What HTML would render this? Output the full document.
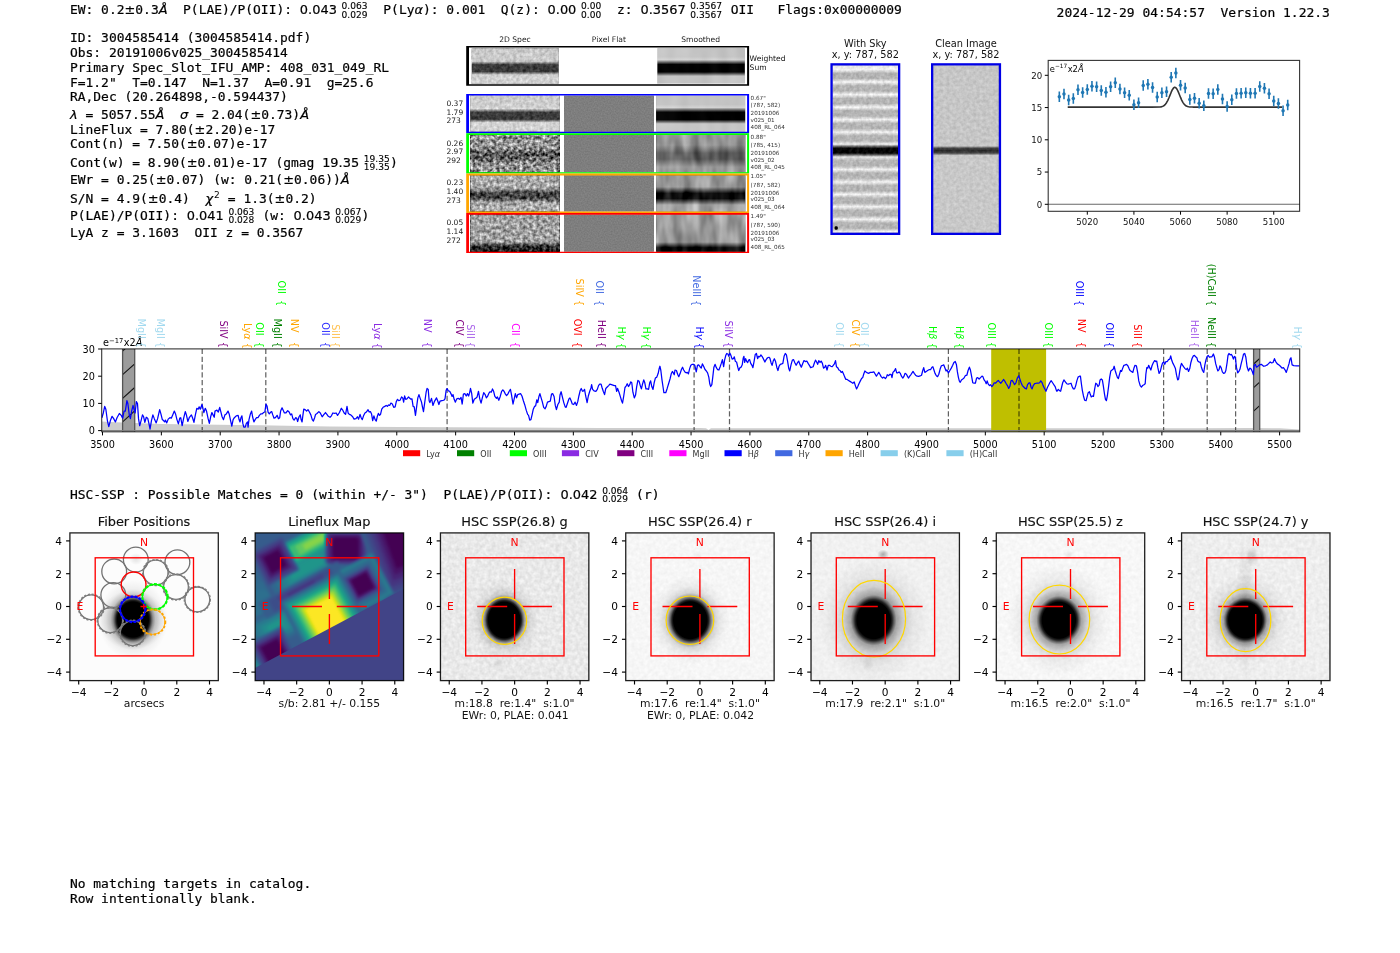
<!DOCTYPE html>
<html lang="en"><head><meta charset="utf-8"><title>ELiXer detection report 3004585414</title>
<style>
html,body{margin:0;padding:0;background:#fff;}
body{width:1400px;height:953px;overflow:hidden;}
svg{display:block;}
text{white-space:pre;}
.m{font-family:"DejaVu Sans Mono","Liberation Mono",monospace;stroke:#000;stroke-width:.2px;}
.s{font-family:"DejaVu Sans","Liberation Sans",sans-serif;}
.i{font-style:italic;}
</style></head><body>
<svg width="1400" height="953" viewBox="0 0 1400 953">
<rect width="1400" height="953" fill="#fff"/>
<text x="70" y="14.0" font-size="12.93" fill="#000" class="m" >EW: 0.2</text>
<text x="124.49" y="14.0" font-size="12.93" fill="#000" class="s" stroke="#000" stroke-width="0.2">±</text>
<text x="135.33" y="14.0" font-size="12.93" fill="#000" class="m" >0.3</text>
<text x="158.68" y="14.0" font-size="12.93" fill="#000" class="s i" stroke="#000" stroke-width="0.2">Å</text>
<text x="167.52" y="14.0" font-size="12.93" fill="#000" class="m" >  P(LAE)/P(OII): </text>
<text x="299.86" y="14.0" font-size="12.93" fill="#000" class="s" stroke="#000" stroke-width="0.2">0.043</text>
<text x="341.58" y="8.9" font-size="9.05" fill="#000" class="s" stroke="#000" stroke-width="0.12">0.063</text>
<text x="341.58" y="17.6" font-size="9.05" fill="#000" class="s" stroke="#000" stroke-width="0.12">0.029</text>
<text x="367.78" y="14.0" font-size="12.93" fill="#000" class="m" >  P(Ly</text>
<text x="414.49" y="14.0" font-size="12.93" fill="#000" class="s i" stroke="#000" stroke-width="0.2">α</text>
<text x="423.01" y="14.0" font-size="12.93" fill="#000" class="m" >): 0.001  Q(z): </text>
<text x="547.57" y="14.0" font-size="12.93" fill="#000" class="s" stroke="#000" stroke-width="0.2">0.00</text>
<text x="581.06" y="8.9" font-size="9.05" fill="#000" class="s" stroke="#000" stroke-width="0.12">0.00</text>
<text x="581.06" y="17.6" font-size="9.05" fill="#000" class="s" stroke="#000" stroke-width="0.12">0.00</text>
<text x="601.51" y="14.0" font-size="12.93" fill="#000" class="m" >  z: </text>
<text x="640.43" y="14.0" font-size="12.93" fill="#000" class="s" stroke="#000" stroke-width="0.2">0.3567</text>
<text x="690.37" y="8.9" font-size="9.05" fill="#000" class="s" stroke="#000" stroke-width="0.12">0.3567</text>
<text x="690.37" y="17.6" font-size="9.05" fill="#000" class="s" stroke="#000" stroke-width="0.12">0.3567</text>
<text x="722.94" y="14.0" font-size="12.93" fill="#000" class="m" > OII   Flags:0x00000009</text>
<text x="1056.6" y="16.6" font-size="12.98" fill="#000" class="m" >2024-12-29 04:54:57  Version 1.22.3</text>
<text x="70" y="42.4" font-size="12.93" fill="#000" class="m" >ID: 3004585414 (3004585414.pdf)</text>
<text x="70" y="57.1" font-size="12.93" fill="#000" class="m" >Obs: 20191006v025_3004585414</text>
<text x="70" y="71.9" font-size="12.93" fill="#000" class="m" >Primary Spec_Slot_IFU_AMP: 408_031_049_RL</text>
<text x="70" y="86.6" font-size="12.93" fill="#000" class="m" >F=1.2"  T=0.147  N=1.37  A=0.91  g=25.6</text>
<text x="70" y="101.4" font-size="12.93" fill="#000" class="m" >RA,Dec (20.264898,-0.594437)</text>
<text x="70" y="236.6" font-size="12.93" fill="#000" class="m" >LyA z = 3.1603  OII z = 0.3567</text>
<text x="70" y="118.9" font-size="12.93" fill="#000" class="s i" stroke="#000" stroke-width="0.2">λ</text>
<text x="77.65" y="118.9" font-size="12.93" fill="#000" class="m" > = 5057.55</text>
<text x="155.5" y="118.9" font-size="12.93" fill="#000" class="s i" stroke="#000" stroke-width="0.2">Å</text>
<text x="164.34" y="118.9" font-size="12.93" fill="#000" class="m" >  </text>
<text x="179.91" y="118.9" font-size="12.93" fill="#000" class="s i" stroke="#000" stroke-width="0.2">σ</text>
<text x="188.11" y="118.9" font-size="12.93" fill="#000" class="m" > = 2.04(</text>
<text x="250.38" y="118.9" font-size="12.93" fill="#000" class="s" stroke="#000" stroke-width="0.2">±</text>
<text x="261.22" y="118.9" font-size="12.93" fill="#000" class="m" >0.73)</text>
<text x="300.14" y="118.9" font-size="12.93" fill="#000" class="s i" stroke="#000" stroke-width="0.2">Å</text>
<text x="70" y="133.8" font-size="12.93" fill="#000" class="m" >LineFlux = 7.80(</text>
<text x="194.55" y="133.8" font-size="12.93" fill="#000" class="s" stroke="#000" stroke-width="0.2">±</text>
<text x="205.39" y="133.8" font-size="12.93" fill="#000" class="m" >2.20)e-17</text>
<text x="70" y="148.3" font-size="12.93" fill="#000" class="m" >Cont(n) = 7.50(</text>
<text x="186.77" y="148.3" font-size="12.93" fill="#000" class="s" stroke="#000" stroke-width="0.2">±</text>
<text x="197.6" y="148.3" font-size="12.93" fill="#000" class="m" >0.07)e-17</text>
<text x="70" y="166.8" font-size="12.93" fill="#000" class="m" >Cont(w) = 8.90(</text>
<text x="186.77" y="166.8" font-size="12.93" fill="#000" class="s" stroke="#000" stroke-width="0.2">±</text>
<text x="197.6" y="166.8" font-size="12.93" fill="#000" class="m" >0.01)e-17 (gmag </text>
<text x="322.15" y="166.8" font-size="12.93" fill="#000" class="s" stroke="#000" stroke-width="0.2">19.35</text>
<text x="363.87" y="161.7" font-size="9.05" fill="#000" class="s" stroke="#000" stroke-width="0.12">19.35</text>
<text x="363.87" y="170.4" font-size="9.05" fill="#000" class="s" stroke="#000" stroke-width="0.12">19.35</text>
<text x="390.08" y="166.8" font-size="12.93" fill="#000" class="m" >)</text>
<text x="70" y="184.3" font-size="12.93" fill="#000" class="m" >EWr = 0.25(</text>
<text x="155.63" y="184.3" font-size="12.93" fill="#000" class="s" stroke="#000" stroke-width="0.2">±</text>
<text x="166.46" y="184.3" font-size="12.93" fill="#000" class="m" >0.07) (w: 0.21(</text>
<text x="283.23" y="184.3" font-size="12.93" fill="#000" class="s" stroke="#000" stroke-width="0.2">±</text>
<text x="294.06" y="184.3" font-size="12.93" fill="#000" class="m" >0.06))</text>
<text x="340.77" y="184.3" font-size="12.93" fill="#000" class="s i" stroke="#000" stroke-width="0.2">Å</text>
<text x="70" y="202.5" font-size="12.93" fill="#000" class="m" >S/N = 4.9(</text>
<text x="147.84" y="202.5" font-size="12.93" fill="#000" class="s" stroke="#000" stroke-width="0.2">±</text>
<text x="158.68" y="202.5" font-size="12.93" fill="#000" class="m" >0.4)  </text>
<text x="205.39" y="202.5" font-size="12.93" fill="#000" class="s i" stroke="#000" stroke-width="0.2">χ</text>
<text x="214.04" y="197.8" font-size="9.05" fill="#000" class="s" >2</text>
<text x="220.1" y="202.5" font-size="12.93" fill="#000" class="m" > = 1.3(</text>
<text x="274.59" y="202.5" font-size="12.93" fill="#000" class="s" stroke="#000" stroke-width="0.2">±</text>
<text x="285.42" y="202.5" font-size="12.93" fill="#000" class="m" >0.2)</text>
<text x="70" y="219.6" font-size="12.93" fill="#000" class="m" >P(LAE)/P(OII): </text>
<text x="186.77" y="219.6" font-size="12.93" fill="#000" class="s" stroke="#000" stroke-width="0.2">0.041</text>
<text x="228.48" y="214.5" font-size="9.05" fill="#000" class="s" stroke="#000" stroke-width="0.12">0.063</text>
<text x="228.48" y="223.2" font-size="9.05" fill="#000" class="s" stroke="#000" stroke-width="0.12">0.028</text>
<text x="254.69" y="219.6" font-size="12.93" fill="#000" class="m" > (w: </text>
<text x="293.61" y="219.6" font-size="12.93" fill="#000" class="s" stroke="#000" stroke-width="0.2">0.043</text>
<text x="335.33" y="214.5" font-size="9.05" fill="#000" class="s" stroke="#000" stroke-width="0.12">0.067</text>
<text x="335.33" y="223.2" font-size="9.05" fill="#000" class="s" stroke="#000" stroke-width="0.12">0.029</text>
<text x="361.54" y="219.6" font-size="12.93" fill="#000" class="m" >)</text>
<text x="70" y="498.8" font-size="12.93" fill="#000" class="m" >HSC-SSP : Possible Matches = 0 (within +/- 3")  P(LAE)/P(OII): </text>
<text x="560.42" y="498.8" font-size="12.93" fill="#000" class="s" stroke="#000" stroke-width="0.2">0.042</text>
<text x="602.14" y="493.7" font-size="9.05" fill="#000" class="s" stroke="#000" stroke-width="0.12">0.064</text>
<text x="602.14" y="502.4" font-size="9.05" fill="#000" class="s" stroke="#000" stroke-width="0.12">0.029</text>
<text x="628.35" y="498.8" font-size="12.93" fill="#000" class="m" > (r)</text>
<text x="70" y="888.4" font-size="12.93" fill="#000" class="m" >No matching targets in catalog.</text>
<text x="70" y="903.2" font-size="12.93" fill="#000" class="m" >Row intentionally blank.</text>
<filter id="nz1" x="0" y="0" width="100%" height="100%" color-interpolation-filters="sRGB"><feTurbulence type="fractalNoise" baseFrequency="0.3" numOctaves="2" seed="4" result="t"/><feColorMatrix in="t" type="matrix" values="1 0 0 0 0  1 0 0 0 0  1 0 0 0 0  0 0 0 0 1" result="n1"/><feComposite in="SourceGraphic" in2="n1" operator="arithmetic" k1="0" k2="1" k3="0.32" k4="-0.160"/></filter>
<filter id="nz2" x="0" y="0" width="100%" height="100%" color-interpolation-filters="sRGB"><feTurbulence type="fractalNoise" baseFrequency="0.3" numOctaves="2" seed="11" result="t"/><feColorMatrix in="t" type="matrix" values="1 0 0 0 0  1 0 0 0 0  1 0 0 0 0  0 0 0 0 1" result="n1"/><feComposite in="SourceGraphic" in2="n1" operator="arithmetic" k1="0" k2="1" k3="1.25" k4="-0.625"/></filter>
<filter id="nz3" x="0" y="0" width="100%" height="100%" color-interpolation-filters="sRGB"><feTurbulence type="fractalNoise" baseFrequency="0.3" numOctaves="2" seed="17" result="t"/><feColorMatrix in="t" type="matrix" values="1 0 0 0 0  1 0 0 0 0  1 0 0 0 0  0 0 0 0 1" result="n1"/><feComposite in="SourceGraphic" in2="n1" operator="arithmetic" k1="0" k2="1" k3="0.85" k4="-0.425"/></filter>
<filter id="nz4" x="0" y="0" width="100%" height="100%" color-interpolation-filters="sRGB"><feTurbulence type="fractalNoise" baseFrequency="0.3" numOctaves="2" seed="23" result="t"/><feColorMatrix in="t" type="matrix" values="1 0 0 0 0  1 0 0 0 0  1 0 0 0 0  0 0 0 0 1" result="n1"/><feComposite in="SourceGraphic" in2="n1" operator="arithmetic" k1="0" k2="1" k3="0.85" k4="-0.425"/></filter>
<filter id="nz5" x="0" y="0" width="100%" height="100%" color-interpolation-filters="sRGB"><feTurbulence type="fractalNoise" baseFrequency="0.7" numOctaves="1" seed="7" result="t"/><feColorMatrix in="t" type="matrix" values="1 0 0 0 0  1 0 0 0 0  1 0 0 0 0  0 0 0 0 1" result="n1"/><feComposite in="SourceGraphic" in2="n1" operator="arithmetic" k1="0" k2="1" k3="0.12" k4="-0.060"/></filter>
<filter id="nz6" x="0" y="0" width="100%" height="100%" color-interpolation-filters="sRGB"><feTurbulence type="fractalNoise" baseFrequency="0.11 0.035" numOctaves="2" seed="21" result="t"/><feColorMatrix in="t" type="matrix" values="1 0 0 0 0  1 0 0 0 0  1 0 0 0 0  0 0 0 0 1" result="n1"/><feComposite in="SourceGraphic" in2="n1" operator="arithmetic" k1="0" k2="1" k3="0.45" k4="-0.225"/></filter>
<filter id="nz7" x="0" y="0" width="100%" height="100%" color-interpolation-filters="sRGB"><feTurbulence type="fractalNoise" baseFrequency="0.10 0.03" numOctaves="1" seed="5" result="t"/><feColorMatrix in="t" type="matrix" values="1 0 0 0 0  1 0 0 0 0  1 0 0 0 0  0 0 0 0 1" result="n1"/><feComposite in="SourceGraphic" in2="n1" operator="arithmetic" k1="0" k2="1" k3="0.1" k4="-0.050"/></filter>
<text x="515.0" y="42.2" font-size="7.6" fill="#222" class="s" text-anchor="middle" >2D Spec</text>
<text x="608.9" y="42.2" font-size="7.6" fill="#222" class="s" text-anchor="middle" >Pixel Flat</text>
<text x="700.7" y="42.2" font-size="7.6" fill="#222" class="s" text-anchor="middle" >Smoothed</text>
<path d="M466.2,46.1H749.1V85.7H466.2Z M469.00,47.60V84.30H747.10V47.60Z" fill="#000" fill-rule="evenodd"/>
<linearGradient id="vg1" x1="0" y1="0" x2="0" y2="1"><stop offset="0.0000" stop-color="#cacaca"/><stop offset="0.3750" stop-color="#cacaca"/><stop offset="0.4659" stop-color="#3a3a3a"/><stop offset="0.6648" stop-color="#3a3a3a"/><stop offset="0.7557" stop-color="#d0d0d0"/><stop offset="1.0000" stop-color="#d0d0d0"/></linearGradient>
<rect x="471.9" y="48.2" width="86.70" height="35.20" fill="url(#vg1)" filter="url(#nz1)"/>
<linearGradient id="vg2" x1="0" y1="0" x2="0" y2="1"><stop offset="0.0000" stop-color="#c4c4c4"/><stop offset="0.2443" stop-color="#c4c4c4"/><stop offset="0.3295" stop-color="#d2d2d2"/><stop offset="0.4619" stop-color="#020202"/><stop offset="0.6744" stop-color="#020202"/><stop offset="0.7926" stop-color="#c4c4c4"/><stop offset="1.0000" stop-color="#c4c4c4"/></linearGradient>
<rect x="657.4" y="48.2" width="87.40" height="35.20" fill="url(#vg2)" filter="url(#nz7)"/>
<text x="749.6" y="61.0" font-size="7.6" fill="#111" class="s" >Weighted</text>
<text x="749.6" y="69.8" font-size="7.6" fill="#111" class="s" >Sum</text>
<linearGradient id="vg3" x1="0" y1="0" x2="0" y2="1"><stop offset="0.0000" stop-color="#cccccc"/><stop offset="0.2762" stop-color="#cccccc"/><stop offset="0.3591" stop-color="#d8d8d8"/><stop offset="0.4613" stop-color="#3a3a3a"/><stop offset="0.6547" stop-color="#3a3a3a"/><stop offset="0.7431" stop-color="#d2d2d2"/><stop offset="1.0000" stop-color="#d2d2d2"/></linearGradient>
<rect x="470.3" y="95.6" width="89.40" height="36.20" fill="url(#vg3)" filter="url(#nz1)"/>
<linearGradient id="vg4" x1="0" y1="0" x2="0" y2="1"><stop offset="0.0000" stop-color="#c4c4c4"/><stop offset="0.2459" stop-color="#c4c4c4"/><stop offset="0.3287" stop-color="#d2d2d2"/><stop offset="0.4575" stop-color="#020202"/><stop offset="0.6641" stop-color="#020202"/><stop offset="0.7790" stop-color="#c6c6c6"/><stop offset="1.0000" stop-color="#c6c6c6"/></linearGradient>
<rect x="656.1" y="95.6" width="89.10" height="36.20" fill="url(#vg4)" filter="url(#nz7)"/>
<rect x="564.0" y="95.6" width="89.9" height="36.20" fill="#7e7e7e" filter="url(#nz5)"/>
<linearGradient id="vg5" x1="0" y1="0" x2="0" y2="1"><stop offset="0.0000" stop-color="#949494"/><stop offset="0.3556" stop-color="#949494"/><stop offset="0.4840" stop-color="#585858"/><stop offset="0.6283" stop-color="#585858"/><stop offset="0.7567" stop-color="#929292"/><stop offset="1.0000" stop-color="#929292"/></linearGradient>
<rect x="470.3" y="134.79999999999998" width="89.40" height="37.40" fill="url(#vg5)" filter="url(#nz2)"/>
<linearGradient id="vg6" x1="0" y1="0" x2="0" y2="1"><stop offset="0.0000" stop-color="#949494"/><stop offset="0.2727" stop-color="#949494"/><stop offset="0.4866" stop-color="#5c5c5c"/><stop offset="0.6471" stop-color="#5c5c5c"/><stop offset="0.8610" stop-color="#9a9a9a"/><stop offset="1.0000" stop-color="#9a9a9a"/></linearGradient>
<rect x="656.1" y="134.79999999999998" width="89.10" height="37.40" fill="url(#vg6)" filter="url(#nz6)"/>
<rect x="564.0" y="134.79999999999998" width="89.9" height="37.40" fill="#7e7e7e" filter="url(#nz5)"/>
<linearGradient id="vg7" x1="0" y1="0" x2="0" y2="1"><stop offset="0.0000" stop-color="#a8a8a8"/><stop offset="0.3581" stop-color="#a8a8a8"/><stop offset="0.4904" stop-color="#404040"/><stop offset="0.6281" stop-color="#404040"/><stop offset="0.7603" stop-color="#acacac"/><stop offset="1.0000" stop-color="#acacac"/></linearGradient>
<rect x="470.3" y="175.2" width="89.40" height="36.30" fill="url(#vg7)" filter="url(#nz3)"/>
<linearGradient id="vg8" x1="0" y1="0" x2="0" y2="1"><stop offset="0.0000" stop-color="#9a9a9a"/><stop offset="0.3223" stop-color="#9a9a9a"/><stop offset="0.4986" stop-color="#0c0c0c"/><stop offset="0.6419" stop-color="#0c0c0c"/><stop offset="0.8182" stop-color="#a2a2a2"/><stop offset="1.0000" stop-color="#a2a2a2"/></linearGradient>
<rect x="656.1" y="175.2" width="89.10" height="36.30" fill="url(#vg8)" filter="url(#nz6)"/>
<rect x="564.0" y="175.2" width="89.9" height="36.30" fill="#7e7e7e" filter="url(#nz5)"/>
<linearGradient id="vg9" x1="0" y1="0" x2="0" y2="1"><stop offset="0.0000" stop-color="#a0a0a0"/><stop offset="0.7392" stop-color="#a0a0a0"/><stop offset="0.8683" stop-color="#222222"/><stop offset="0.9866" stop-color="#222222"/><stop offset="1.0000" stop-color="#141414"/><stop offset="1.0000" stop-color="#141414"/></linearGradient>
<rect x="470.3" y="214.5" width="89.40" height="37.20" fill="url(#vg9)" filter="url(#nz4)"/>
<linearGradient id="vg10" x1="0" y1="0" x2="0" y2="1"><stop offset="0.0000" stop-color="#9a9a9a"/><stop offset="0.7419" stop-color="#9a9a9a"/><stop offset="0.8925" stop-color="#040404"/><stop offset="0.9946" stop-color="#040404"/><stop offset="1.0000" stop-color="#000000"/><stop offset="1.0000" stop-color="#000000"/></linearGradient>
<rect x="656.1" y="214.5" width="89.10" height="37.20" fill="url(#vg10)" filter="url(#nz6)"/>
<rect x="564.0" y="214.5" width="89.9" height="37.20" fill="#7e7e7e" filter="url(#nz5)"/>
<path d="M466.2,94.0H749.1V133.2H466.2Z M469.00,95.45V131.80H747.10V95.45Z" fill="#0000ff" fill-rule="evenodd"/>
<path d="M466.2,133.2H749.1V173.6H466.2Z M469.00,135.00V172.20H747.10V135.00Z" fill="#00ff00" fill-rule="evenodd"/>
<path d="M466.2,173.6H749.1V212.9H466.2Z M469.00,175.40V211.50H747.10V175.40Z" fill="#ffa500" fill-rule="evenodd"/>
<path d="M466.2,212.9H749.1V253.1H466.2Z M469.00,214.70V251.70H747.10V214.70Z" fill="#ff0000" fill-rule="evenodd"/>
<text x="446.4" y="105.7" font-size="7.55" fill="#222" class="s" >0.37</text>
<text x="446.4" y="114.5" font-size="7.55" fill="#222" class="s" >1.79</text>
<text x="446.4" y="123.3" font-size="7.55" fill="#222" class="s" >273</text>
<text x="750.6" y="99.5" font-size="5.65" fill="#333" class="s" >0.67"</text>
<text x="750.6" y="107.2" font-size="5.65" fill="#333" class="s" >(787, 582)</text>
<text x="750.6" y="115.2" font-size="5.65" fill="#333" class="s" >20191006</text>
<text x="750.6" y="121.8" font-size="5.65" fill="#333" class="s" >v025_01</text>
<text x="750.6" y="129.0" font-size="5.65" fill="#333" class="s" >408_RL_064</text>
<text x="446.4" y="145.6" font-size="7.55" fill="#222" class="s" >0.26</text>
<text x="446.4" y="154.4" font-size="7.55" fill="#222" class="s" >2.97</text>
<text x="446.4" y="163.2" font-size="7.55" fill="#222" class="s" >292</text>
<text x="750.6" y="138.9" font-size="5.65" fill="#333" class="s" >0.88"</text>
<text x="750.6" y="146.8" font-size="5.65" fill="#333" class="s" >(785, 415)</text>
<text x="750.6" y="154.9" font-size="5.65" fill="#333" class="s" >20191006</text>
<text x="750.6" y="161.5" font-size="5.65" fill="#333" class="s" >v025_02</text>
<text x="750.6" y="169.0" font-size="5.65" fill="#333" class="s" >408_RL_045</text>
<text x="446.4" y="185.4" font-size="7.55" fill="#222" class="s" >0.23</text>
<text x="446.4" y="194.2" font-size="7.55" fill="#222" class="s" >1.40</text>
<text x="446.4" y="203.0" font-size="7.55" fill="#222" class="s" >273</text>
<text x="750.6" y="178.3" font-size="5.65" fill="#333" class="s" >1.05"</text>
<text x="750.6" y="186.7" font-size="5.65" fill="#333" class="s" >(787, 582)</text>
<text x="750.6" y="195.0" font-size="5.65" fill="#333" class="s" >20191006</text>
<text x="750.6" y="201.3" font-size="5.65" fill="#333" class="s" >v025_03</text>
<text x="750.6" y="208.5" font-size="5.65" fill="#333" class="s" >408_RL_064</text>
<text x="446.4" y="225.4" font-size="7.55" fill="#222" class="s" >0.05</text>
<text x="446.4" y="234.2" font-size="7.55" fill="#222" class="s" >1.14</text>
<text x="446.4" y="243.0" font-size="7.55" fill="#222" class="s" >272</text>
<text x="750.6" y="218.2" font-size="5.65" fill="#333" class="s" >1.49"</text>
<text x="750.6" y="226.5" font-size="5.65" fill="#333" class="s" >(787, 590)</text>
<text x="750.6" y="234.7" font-size="5.65" fill="#333" class="s" >20191006</text>
<text x="750.6" y="240.9" font-size="5.65" fill="#333" class="s" >v025_03</text>
<text x="750.6" y="248.5" font-size="5.65" fill="#333" class="s" >408_RL_065</text>
<filter id="nz8" x="0" y="0" width="100%" height="100%" color-interpolation-filters="sRGB"><feTurbulence type="fractalNoise" baseFrequency="0.3" numOctaves="2" seed="9" result="t"/><feColorMatrix in="t" type="matrix" values="1 0 0 0 0  1 0 0 0 0  1 0 0 0 0  0 0 0 0 1" result="n1"/><feComposite in="SourceGraphic" in2="n1" operator="arithmetic" k1="0" k2="1" k3="0.22" k4="-0.110"/></filter>
<filter id="nz9" x="0" y="0" width="100%" height="100%" color-interpolation-filters="sRGB"><feTurbulence type="fractalNoise" baseFrequency="0.3" numOctaves="2" seed="15" result="t"/><feColorMatrix in="t" type="matrix" values="1 0 0 0 0  1 0 0 0 0  1 0 0 0 0  0 0 0 0 1" result="n1"/><feComposite in="SourceGraphic" in2="n1" operator="arithmetic" k1="0" k2="1" k3="0.16" k4="-0.080"/></filter>
<text x="865.3" y="47.2" font-size="9.8" fill="#111" class="s" text-anchor="middle" >With Sky</text>
<text x="865.3" y="58.4" font-size="9.8" fill="#111" class="s" text-anchor="middle" >x, y: 787, 582</text>
<linearGradient id="vg11" x1="0" y1="0" x2="0" y2="1"><stop offset="0.0000" stop-color="#e6e6e6"/><stop offset="0.0236" stop-color="#f2f2f2"/><stop offset="0.0455" stop-color="#b4b4b4"/><stop offset="0.0766" stop-color="#b4b4b4"/><stop offset="0.0990" stop-color="#f2f2f2"/><stop offset="0.1208" stop-color="#b4b4b4"/><stop offset="0.1519" stop-color="#b4b4b4"/><stop offset="0.1743" stop-color="#f2f2f2"/><stop offset="0.1962" stop-color="#b4b4b4"/><stop offset="0.2273" stop-color="#b4b4b4"/><stop offset="0.2491" stop-color="#f2f2f2"/><stop offset="0.2709" stop-color="#b4b4b4"/><stop offset="0.3020" stop-color="#b4b4b4"/><stop offset="0.3239" stop-color="#f2f2f2"/><stop offset="0.3457" stop-color="#b4b4b4"/><stop offset="0.3768" stop-color="#b4b4b4"/><stop offset="0.3980" stop-color="#f2f2f2"/><stop offset="0.4199" stop-color="#b4b4b4"/><stop offset="0.4510" stop-color="#b4b4b4"/><stop offset="0.4707" stop-color="#eeeeee"/><stop offset="0.4862" stop-color="#505050"/><stop offset="0.4952" stop-color="#060606"/><stop offset="0.5233" stop-color="#060606"/><stop offset="0.5341" stop-color="#606060"/><stop offset="0.5472" stop-color="#e8e8e8"/><stop offset="0.5676" stop-color="#b4b4b4"/><stop offset="0.5987" stop-color="#b4b4b4"/><stop offset="0.6211" stop-color="#f2f2f2"/><stop offset="0.6429" stop-color="#b4b4b4"/><stop offset="0.6740" stop-color="#b4b4b4"/><stop offset="0.6965" stop-color="#f2f2f2"/><stop offset="0.7183" stop-color="#b4b4b4"/><stop offset="0.7494" stop-color="#b4b4b4"/><stop offset="0.7706" stop-color="#f2f2f2"/><stop offset="0.7925" stop-color="#b4b4b4"/><stop offset="0.8236" stop-color="#b4b4b4"/><stop offset="0.8448" stop-color="#f2f2f2"/><stop offset="0.8666" stop-color="#b4b4b4"/><stop offset="0.8977" stop-color="#b4b4b4"/><stop offset="0.9202" stop-color="#f2f2f2"/><stop offset="0.9420" stop-color="#b4b4b4"/><stop offset="0.9731" stop-color="#b4b4b4"/><stop offset="0.9928" stop-color="#ececec"/></linearGradient>
<rect x="832.6999999999999" y="65.5" width="65.30" height="167.20" fill="url(#vg11)" filter="url(#nz8)"/>
<rect x="834.6" y="226.2" width="3.2" height="3.6" rx="1.2" fill="#000"/>
<rect x="831.55" y="64.35" width="67.60" height="169.50" fill="none" stroke="#0000e6" stroke-width="2.3"/>
<text x="966.0" y="47.2" font-size="9.8" fill="#111" class="s" text-anchor="middle" >Clean Image</text>
<text x="966.0" y="58.4" font-size="9.8" fill="#111" class="s" text-anchor="middle" >x, y: 787, 582</text>
<linearGradient id="vg12" x1="0" y1="0" x2="0" y2="1"><stop offset="0.0000" stop-color="#c6c6c6"/><stop offset="0.4815" stop-color="#c6c6c6"/><stop offset="0.4946" stop-color="#444444"/><stop offset="0.5090" stop-color="#2c2c2c"/><stop offset="0.5233" stop-color="#444444"/><stop offset="0.5377" stop-color="#c8c8c8"/><stop offset="1.0000" stop-color="#c8c8c8"/></linearGradient>
<rect x="933.3" y="65.5" width="65.50" height="167.20" fill="url(#vg12)" filter="url(#nz9)"/>
<rect x="932.15" y="64.35" width="67.80" height="169.50" fill="none" stroke="#0000e6" stroke-width="2.3"/>
<line x1="1048.2" y1="204.3" x2="1299.6" y2="204.3" stroke="#000" stroke-opacity="0.6" stroke-width="1.1"/>
<polyline fill="none" stroke="#000" stroke-opacity="0.8" stroke-width="1.6" stroke-linejoin="round" points="1067.72,107.1 1077.05,107.1 1086.37,107.1 1095.69,107.1 1105.01,107.1 1114.33,107.1 1123.66,107.1 1132.98,107.1 1142.3,107.1 1151.62,107.1 1160.71,106.85 1161.88,106.61 1163.04,106.17 1164.21,105.45 1165.37,104.33 1166.54,102.73 1167.7,100.6 1168.87,98.0 1170.03,95.11 1171.2,92.21 1172.36,89.7 1173.53,87.94 1174.69,87.24 1175.86,87.71 1177.02,89.27 1178.19,91.67 1179.35,94.52 1180.52,97.44 1181.69,100.12 1182.85,102.34 1184.02,104.05 1185.18,105.26 1186.35,106.05 1187.51,106.54 1188.68,106.82 1189.84,106.96 1191.01,107.04 1192.17,107.07 1193.34,107.09 1194.5,107.09 1195.67,107.1 1196.83,107.1 1206.16,107.1 1215.48,107.1 1224.8,107.1 1234.12,107.1 1243.44,107.1 1252.77,107.1 1262.09,107.1 1271.41,107.1 1280.73,107.1 1282.13,107.1"/>
<path d="M1059.33,91.5V102.1M1063.99,88.7V99.3M1068.66,94.7V105.3M1073.32,93.2V103.8M1077.98,84.5V95.1M1082.64,87.2V97.8M1087.3,84.2V94.8M1091.96,81.0V91.6M1096.62,81.5V92.1M1101.28,85.2V95.8M1105.94,87.0V97.6M1110.61,81.5V92.1M1115.27,77.5V88.1M1119.93,83.7V94.3M1124.59,87.4V98.0M1129.25,89.9V100.5M1133.91,99.4V110.0M1138.57,97.5V108.1M1143.23,80.2V90.8M1147.89,79.0V89.6M1152.55,82.2V92.8M1157.21,91.7V102.3M1161.88,87.5V98.1M1166.54,86.4V97.0M1171.2,71.9V82.5M1175.86,67.7V78.3M1180.52,80.0V90.6M1185.18,82.7V93.3M1189.84,94.2V104.8M1194.5,93.0V103.6M1199.16,98.0V108.6M1203.83,100.4V111.0M1208.49,88.2V98.8M1213.15,88.5V99.1M1217.81,84.2V94.8M1222.47,93.7V104.3M1227.13,101.2V111.8M1231.79,94.4V105.0M1236.45,88.2V98.8M1241.11,88.0V98.6M1245.77,87.4V98.0M1250.43,87.9V98.5M1255.1,88.0V98.6M1259.76,81.2V91.8M1264.42,82.9V93.5M1269.08,88.5V99.1M1273.74,95.7V106.3M1278.4,98.2V108.8M1283.06,105.4V116.0M1287.72,99.7V110.3" stroke="#1f77b4" stroke-width="1.6" fill="none"/>
<g fill="#1f77b4"><circle cx="1059.33" cy="96.8" r="1.75"/><circle cx="1063.99" cy="94" r="1.75"/><circle cx="1068.66" cy="100" r="1.75"/><circle cx="1073.32" cy="98.5" r="1.75"/><circle cx="1077.98" cy="89.8" r="1.75"/><circle cx="1082.64" cy="92.5" r="1.75"/><circle cx="1087.3" cy="89.5" r="1.75"/><circle cx="1091.96" cy="86.3" r="1.75"/><circle cx="1096.62" cy="86.8" r="1.75"/><circle cx="1101.28" cy="90.5" r="1.75"/><circle cx="1105.94" cy="92.3" r="1.75"/><circle cx="1110.61" cy="86.8" r="1.75"/><circle cx="1115.27" cy="82.8" r="1.75"/><circle cx="1119.93" cy="89" r="1.75"/><circle cx="1124.59" cy="92.7" r="1.75"/><circle cx="1129.25" cy="95.2" r="1.75"/><circle cx="1133.91" cy="104.7" r="1.75"/><circle cx="1138.57" cy="102.8" r="1.75"/><circle cx="1143.23" cy="85.5" r="1.75"/><circle cx="1147.89" cy="84.3" r="1.75"/><circle cx="1152.55" cy="87.5" r="1.75"/><circle cx="1157.21" cy="97" r="1.75"/><circle cx="1161.88" cy="92.8" r="1.75"/><circle cx="1166.54" cy="91.7" r="1.75"/><circle cx="1171.2" cy="77.2" r="1.75"/><circle cx="1175.86" cy="73" r="1.75"/><circle cx="1180.52" cy="85.3" r="1.75"/><circle cx="1185.18" cy="88" r="1.75"/><circle cx="1189.84" cy="99.5" r="1.75"/><circle cx="1194.5" cy="98.3" r="1.75"/><circle cx="1199.16" cy="103.3" r="1.75"/><circle cx="1203.83" cy="105.7" r="1.75"/><circle cx="1208.49" cy="93.5" r="1.75"/><circle cx="1213.15" cy="93.8" r="1.75"/><circle cx="1217.81" cy="89.5" r="1.75"/><circle cx="1222.47" cy="99" r="1.75"/><circle cx="1227.13" cy="106.5" r="1.75"/><circle cx="1231.79" cy="99.7" r="1.75"/><circle cx="1236.45" cy="93.5" r="1.75"/><circle cx="1241.11" cy="93.3" r="1.75"/><circle cx="1245.77" cy="92.7" r="1.75"/><circle cx="1250.43" cy="93.2" r="1.75"/><circle cx="1255.1" cy="93.3" r="1.75"/><circle cx="1259.76" cy="86.5" r="1.75"/><circle cx="1264.42" cy="88.2" r="1.75"/><circle cx="1269.08" cy="93.8" r="1.75"/><circle cx="1273.74" cy="101" r="1.75"/><circle cx="1278.4" cy="103.5" r="1.75"/><circle cx="1283.06" cy="110.7" r="1.75"/><circle cx="1287.72" cy="105" r="1.75"/></g>
<rect x="1048.2" y="60.4" width="251.4" height="150.9" fill="none" stroke="#000" stroke-opacity="0.8" stroke-width="1.1"/>
<line x1="1087.3" y1="211.3" x2="1087.3" y2="214.70000000000002" stroke="#000" stroke-width="1.0"/>
<text x="1087.3" y="224.7" font-size="8.6" fill="#111" class="s" text-anchor="middle" >5020</text>
<line x1="1133.91" y1="211.3" x2="1133.91" y2="214.70000000000002" stroke="#000" stroke-width="1.0"/>
<text x="1133.91" y="224.7" font-size="8.6" fill="#111" class="s" text-anchor="middle" >5040</text>
<line x1="1180.52" y1="211.3" x2="1180.52" y2="214.70000000000002" stroke="#000" stroke-width="1.0"/>
<text x="1180.52" y="224.7" font-size="8.6" fill="#111" class="s" text-anchor="middle" >5060</text>
<line x1="1227.13" y1="211.3" x2="1227.13" y2="214.70000000000002" stroke="#000" stroke-width="1.0"/>
<text x="1227.13" y="224.7" font-size="8.6" fill="#111" class="s" text-anchor="middle" >5080</text>
<line x1="1273.74" y1="211.3" x2="1273.74" y2="214.70000000000002" stroke="#000" stroke-width="1.0"/>
<text x="1273.74" y="224.7" font-size="8.6" fill="#111" class="s" text-anchor="middle" >5100</text>
<line x1="1044.8" y1="204.3" x2="1048.2" y2="204.3" stroke="#000" stroke-width="1.0"/>
<text x="1042.3" y="207.5" font-size="8.6" fill="#111" class="s" text-anchor="end" >0</text>
<line x1="1044.8" y1="172.05" x2="1048.2" y2="172.05" stroke="#000" stroke-width="1.0"/>
<text x="1042.3" y="175.25" font-size="8.6" fill="#111" class="s" text-anchor="end" >5</text>
<line x1="1044.8" y1="139.8" x2="1048.2" y2="139.8" stroke="#000" stroke-width="1.0"/>
<text x="1042.3" y="143.0" font-size="8.6" fill="#111" class="s" text-anchor="end" >10</text>
<line x1="1044.8" y1="107.55" x2="1048.2" y2="107.55" stroke="#000" stroke-width="1.0"/>
<text x="1042.3" y="110.75" font-size="8.6" fill="#111" class="s" text-anchor="end" >15</text>
<line x1="1044.8" y1="75.3" x2="1048.2" y2="75.3" stroke="#000" stroke-width="1.0"/>
<text x="1042.3" y="78.5" font-size="8.6" fill="#111" class="s" text-anchor="end" >20</text>
<text x="1049.8" y="71.6" font-size="8.3" fill="#000" class="s" >e</text>
<text x="1055.03" y="68.45" font-size="5.81" fill="#000" class="s" >−17</text>
<text x="1067.69" y="71.6" font-size="8.3" fill="#000" class="s" >x2</text>
<text x="1077.88" y="71.6" font-size="8.3" fill="#000" class="s i" >Å</text>
<clipPath id="cspec"><rect x="101.7" y="348.9" width="1198.0" height="82.90000000000003"/></clipPath>
<g clip-path="url(#cspec)">
<path d="M101.9,430.6 L101.9,421.6 L110,421.9 L122,422.6 L135,423.0 L160,423.9 L200,424.6 L260,425.3 L300,425.9 L330,426.5 L400,426.9 L450,427.3 L520,427.6 L600,427.9 L700,428.1 L706,428.3 L708.5,430.0 L711,428.2 L800,428.2 L900,428.2 L1000,428.3 L1100,428.3 L1200,428.2 L1250,428.0 L1280,428.2 L1299.7,429.6 L1299.7,430.6 Z" fill="#cdcdcd"/>
<rect x="991.2" y="348.9" width="54.9" height="82.90000000000003" fill="#bfbf00"/>
<rect x="122.6" y="348.9" width="12.10" height="82.90000000000003" fill="#9c9c9c"/>
<line x1="122.6" y1="351.0" x2="134.7" y2="340.11" stroke="#111" stroke-width="1.1"/>
<line x1="122.6" y1="374.7" x2="134.7" y2="363.81" stroke="#111" stroke-width="1.1"/>
<line x1="122.6" y1="398.4" x2="134.7" y2="387.51" stroke="#111" stroke-width="1.1"/>
<line x1="122.6" y1="421.8" x2="134.7" y2="410.91" stroke="#111" stroke-width="1.1"/>
<line x1="122.6" y1="348.9" x2="122.6" y2="431.8" stroke="#555" stroke-width="1.3"/>
<line x1="134.7" y1="348.9" x2="134.7" y2="431.8" stroke="#555" stroke-width="1.3"/>
<rect x="1253.6" y="348.9" width="6.10" height="82.90000000000003" fill="#9c9c9c"/>
<line x1="1253.6" y1="364.0" x2="1259.7" y2="358.51" stroke="#111" stroke-width="1.1"/>
<line x1="1253.6" y1="387.6" x2="1259.7" y2="382.11" stroke="#111" stroke-width="1.1"/>
<line x1="1253.6" y1="411.2" x2="1259.7" y2="405.71" stroke="#111" stroke-width="1.1"/>
<line x1="1253.6" y1="348.9" x2="1253.6" y2="431.8" stroke="#555" stroke-width="1.3"/>
<line x1="1259.7" y1="348.9" x2="1259.7" y2="431.8" stroke="#555" stroke-width="1.3"/>
<line x1="202.2" y1="348.9" x2="202.2" y2="431.8" stroke="#000" stroke-opacity="0.62" stroke-width="1.25" stroke-dasharray="5.2 2.6"/>
<line x1="265.8" y1="348.9" x2="265.8" y2="431.8" stroke="#000" stroke-opacity="0.62" stroke-width="1.25" stroke-dasharray="5.2 2.6"/>
<line x1="447.1" y1="348.9" x2="447.1" y2="431.8" stroke="#000" stroke-opacity="0.62" stroke-width="1.25" stroke-dasharray="5.2 2.6"/>
<line x1="694.1" y1="348.9" x2="694.1" y2="431.8" stroke="#000" stroke-opacity="0.62" stroke-width="1.25" stroke-dasharray="5.2 2.6"/>
<line x1="729.5" y1="348.9" x2="729.5" y2="431.8" stroke="#000" stroke-opacity="0.62" stroke-width="1.25" stroke-dasharray="5.2 2.6"/>
<line x1="948.4" y1="348.9" x2="948.4" y2="431.8" stroke="#000" stroke-opacity="0.62" stroke-width="1.25" stroke-dasharray="5.2 2.6"/>
<line x1="1019.0" y1="348.9" x2="1019.0" y2="431.8" stroke="#000" stroke-opacity="0.62" stroke-width="1.25" stroke-dasharray="5.2 2.6"/>
<line x1="1163.6" y1="348.9" x2="1163.6" y2="431.8" stroke="#000" stroke-opacity="0.62" stroke-width="1.25" stroke-dasharray="5.2 2.6"/>
<line x1="1207.2" y1="348.9" x2="1207.2" y2="431.8" stroke="#000" stroke-opacity="0.62" stroke-width="1.25" stroke-dasharray="5.2 2.6"/>
<line x1="1235.6" y1="348.9" x2="1235.6" y2="431.8" stroke="#000" stroke-opacity="0.62" stroke-width="1.25" stroke-dasharray="5.2 2.6"/>
<line x1="101.7" y1="430.6" x2="1299.7" y2="430.6" stroke="#808080" stroke-width="1.4"/>
<polyline fill="none" stroke="#0000ff" stroke-width="1.25" stroke-linejoin="round" points="101.89,417.71 103.31,412.99 104.72,406.38 105.85,409.21 107.37,420.54 108.78,426.68 110.39,420.54 112.09,416.29 113.69,418.65 115.39,421.96 117.0,417.71 119.36,413.46 121.25,415.35 122.66,418.18 124.08,411.1 125.31,411.1 126.91,400.71 127.86,403.55 129.27,414.88 130.41,418.65 131.63,411.1 133.05,405.43 134.18,410.16 135.13,412.99 136.36,401.66 137.49,403.55 138.53,418.65 139.66,425.74 141.08,420.54 142.49,414.88 143.63,416.77 144.85,422.43 146.27,417.24 147.69,418.18 148.91,423.38 150.05,429.04 151.46,420.54 152.88,414.88 154.3,418.65 156.19,422.9 157.6,418.65 159.68,409.68 160.91,413.93 162.32,419.6 163.46,420.54 164.68,421.96 165.44,420.07 166.76,422.9 168.18,419.13 169.88,417.71 171.29,418.18 172.71,414.88 174.32,411.1 175.54,413.93 176.96,419.6 178.38,423.85 179.79,418.18 180.74,417.71 182.15,425.74 183.57,418.65 185.27,411.57 186.4,414.88 187.82,421.49 189.24,417.71 191.41,414.88 192.54,417.71 193.96,422.43 195.37,414.88 196.79,408.27 198.21,409.21 199.15,406.85 200.28,409.21 201.98,404.49 202.93,408.27 203.87,412.52 205.29,408.27 206.52,411.1 208.12,418.65 209.35,423.38 210.67,416.77 211.9,412.52 213.31,415.35 214.26,417.24 215.0,411.1 216.89,410.16 218.31,412.04 219.72,407.32 220.67,411.1 222.08,416.77 223.5,419.6 224.92,414.88 226.33,413.93 228.03,411.1 229.16,413.93 230.58,420.54 231.81,426.21 233.13,419.6 234.36,417.71 236.25,415.82 238.14,415.35 239.08,419.6 240.02,421.96 240.97,417.71 241.91,415.82 242.86,423.38 243.8,427.15 245.22,427.15 246.35,423.38 247.58,421.96 248.05,427.15 248.99,419.6 250.41,413.93 251.64,411.1 252.58,416.77 253.9,421.96 255.13,419.6 256.55,417.71 257.97,417.71 259.38,415.35 260.8,413.93 262.21,413.93 263.63,412.52 264.86,412.04 265.99,404.02 267.12,406.38 268.07,412.04 269.3,413.93 270.71,412.04 271.66,411.57 272.79,414.88 274.02,418.18 275.43,417.71 277.13,415.35 278.46,418.65 279.68,417.71 280.63,411.1 282.04,407.8 283.18,410.16 284.41,412.99 285.82,412.99 287.71,410.63 289.13,412.04 290.54,414.88 291.68,413.93 292.9,418.65 294.13,420.07 295.74,417.71 296.68,418.18 297.63,421.49 299.04,416.77 300.27,414.88 301.12,419.6 302.06,421.96 302.82,415.82 303.76,409.21 305.18,409.68 306.6,411.1 308.01,409.68 309.43,412.04 310.85,414.88 312.26,419.6 313.39,421.02 314.62,417.71 315.57,414.41 316.98,413.46 318.87,411.57 320.29,412.99 322.18,416.77 323.59,414.88 325.48,412.52 326.9,414.41 328.31,416.29 330.0,417.24 331.42,415.82 332.83,412.99 334.72,413.46 336.14,412.99 337.55,415.35 339.44,412.52 341.33,408.27 342.75,410.16 344.16,412.99 345.58,414.41 347.0,406.38 348.13,412.99 349.36,414.41 350.77,414.88 352.66,416.77 354.08,419.13 355.97,418.65 357.38,416.77 358.61,419.13 360.03,414.41 361.16,417.71 362.29,419.6 363.52,415.82 364.94,412.99 366.36,412.04 368.05,409.68 369.19,412.04 370.42,411.57 371.55,413.93 372.68,420.54 373.91,415.82 375.14,419.6 376.27,421.02 377.21,416.77 378.35,413.46 379.58,415.35 380.52,414.41 381.75,409.21 383.07,407.32 384.77,406.38 386.19,405.43 387.41,406.38 388.55,404.96 389.68,405.43 390.91,403.07 392.32,404.02 393.74,407.32 395.16,406.85 396.29,401.66 397.52,399.3 398.74,400.71 400.07,400.24 401.58,396.94 402.71,397.88 403.65,402.13 404.6,395.99 405.73,399.3 406.96,398.82 408.56,396.94 409.79,398.35 411.02,399.3 411.96,398.82 413.1,406.38 414.23,406.85 415.46,415.35 416.69,406.38 417.82,397.88 418.95,394.58 420.18,398.35 421.41,401.66 422.54,407.32 423.48,411.57 424.71,402.6 426.13,392.21 427.07,388.44 428.21,389.38 429.15,400.71 429.91,402.6 431.51,398.35 432.93,405.43 434.34,401.66 436.52,397.88 437.65,400.71 438.88,404.49 440.01,401.19 441.9,400.71 443.79,400.24 445.0,398.82 446.13,390.33 447.08,388.63 448.31,390.8 449.72,391.27 451.14,394.1 452.08,396.46 453.03,394.58 454.16,399.3 455.39,402.13 456.8,398.82 458.22,398.35 459.64,399.3 461.05,397.41 462.19,404.02 463.41,394.1 464.83,393.63 466.25,395.99 467.47,393.63 468.61,395.99 469.55,393.16 470.5,388.44 471.63,393.16 472.86,403.07 474.27,399.3 475.69,398.35 477.11,396.94 478.52,391.27 479.75,398.82 481.07,403.07 482.3,397.88 483.72,392.69 485.13,394.58 486.36,397.88 487.49,396.46 488.91,393.16 490.14,391.74 491.27,392.21 492.5,388.91 493.63,391.27 494.86,396.46 496.46,398.35 497.41,396.94 498.82,400.24 500.24,396.46 501.66,391.27 502.79,389.85 504.02,391.27 505.43,394.1 506.57,395.52 507.8,394.1 509.21,391.27 510.44,389.38 511.57,395.05 512.99,404.02 514.41,397.88 515.35,393.63 516.58,397.88 517.71,394.58 519.13,394.1 520.54,393.63 521.96,395.99 523.38,400.71 524.79,404.96 526.21,410.16 527.63,414.41 528.57,415.35 529.7,420.07 530.93,419.6 532.06,414.88 533.29,409.21 534.52,406.38 535.65,405.91 536.78,399.77 537.73,402.6 538.96,396.46 539.9,393.63 541.13,397.88 542.26,401.66 543.68,407.32 545.09,408.74 546.23,406.38 547.46,402.13 548.87,401.66 550.29,401.19 551.52,394.1 552.65,393.63 554.07,396.46 555.29,405.43 556.43,409.68 557.84,404.49 559.26,402.13 560.0,395.05 561.13,391.74 562.36,396.94 563.78,402.6 565.19,406.85 566.14,407.32 567.55,403.07 568.97,398.82 569.92,397.88 571.14,400.71 572.28,404.02 573.69,404.49 575.11,402.13 576.53,405.43 577.75,401.66 578.89,395.99 580.11,390.8 581.25,388.44 582.47,391.27 583.61,390.8 584.55,389.38 585.68,395.99 587.1,402.6 588.33,395.99 589.75,391.27 590.97,387.97 591.63,384.66 592.58,389.38 593.99,390.8 595.88,391.27 597.3,389.38 598.53,385.6 599.66,384.19 601.08,384.19 602.02,387.49 603.25,391.27 604.57,394.58 605.8,388.44 607.21,387.02 608.63,385.6 609.86,384.19 611.46,384.66 612.88,385.13 614.3,385.6 615.52,385.6 616.66,391.27 617.6,388.44 619.02,392.21 620.43,396.94 621.57,400.71 622.51,403.07 623.74,395.99 624.97,387.49 626.1,386.08 627.23,383.72 628.46,386.55 629.69,384.66 630.82,381.83 631.77,382.77 632.9,392.21 634.32,397.88 635.54,395.05 636.68,386.55 637.9,380.41 639.13,381.36 640.26,385.6 641.4,388.91 642.63,383.72 643.76,379.94 644.8,382.77 645.93,388.91 647.35,388.91 648.57,389.38 649.71,382.77 650.65,380.88 651.78,386.55 653.01,389.38 654.15,382.77 655.37,378.05 656.79,377.11 658.21,373.33 659.15,368.61 659.91,366.25 660.85,370.5 661.98,379.94 663.12,387.49 663.87,392.69 665.76,392.69 667.18,388.44 668.59,383.72 670.01,378.99 671.24,373.8 672.37,371.44 673.31,372.86 674.26,374.75 675.0,370.02 676.42,370.5 677.64,374.27 678.78,376.63 680.19,373.33 681.42,369.55 682.55,367.19 683.69,370.02 684.92,371.91 686.14,372.86 687.28,372.38 688.41,373.8 689.64,368.61 690.86,365.3 692.0,364.36 693.41,364.36 694.83,365.3 696.25,371.91 697.47,365.3 698.61,364.83 700.02,366.72 701.25,368.14 702.38,363.89 703.61,366.25 705.03,369.55 706.35,370.97 707.58,372.86 708.81,377.11 709.75,383.72 710.69,386.55 711.83,384.66 712.77,377.11 713.9,367.19 715.13,364.36 716.36,367.66 717.49,369.55 718.91,370.02 720.14,366.72 721.27,363.41 722.4,359.64 723.63,366.72 724.58,360.11 725.8,355.39 726.75,353.5 727.88,353.97 728.82,356.33 729.77,353.03 730.9,355.39 732.13,359.16 733.36,358.69 734.3,356.8 735.43,361.53 736.57,362.0 737.8,367.19 738.74,370.5 739.97,367.66 741.1,367.19 742.23,364.83 743.18,358.22 743.93,356.33 744.69,362.47 745.63,358.69 746.77,361.53 747.71,362.47 748.65,360.11 749.6,359.64 750.73,363.41 751.96,365.3 752.9,367.66 754.13,361.05 755.26,354.44 756.4,353.5 757.63,358.69 758.57,356.33 759.8,356.8 760.93,354.92 762.35,356.8 763.76,359.64 764.9,362.0 766.12,359.64 767.54,357.75 768.96,357.28 769.9,358.22 771.13,362.94 772.07,365.3 773.21,361.05 774.34,358.69 775.57,361.53 776.79,367.19 777.93,370.5 779.06,366.25 780.29,364.36 781.7,363.89 782.84,363.41 784.07,356.33 785.29,353.5 786.43,354.92 787.56,361.05 788.79,368.61 789.73,370.97 791.13,364.36 792.36,360.11 793.59,359.64 794.72,362.47 796.14,365.3 797.37,362.94 798.69,361.05 799.92,364.36 801.33,367.19 802.75,363.41 803.98,360.58 805.3,361.53 806.81,361.05 808.13,363.41 809.36,365.3 810.59,367.66 811.91,367.19 813.14,366.72 814.36,362.94 815.5,360.11 816.63,362.0 817.67,364.36 818.8,360.58 820.03,362.47 821.16,361.05 822.39,363.41 823.52,368.14 824.75,367.19 825.69,365.3 827.02,370.02 828.24,365.3 829.47,365.3 830.79,366.25 832.02,366.72 833.25,365.3 834.38,363.89 835.51,360.58 836.46,366.72 837.69,367.66 838.91,370.02 840.05,370.5 841.18,372.38 842.41,371.44 843.64,374.27 844.77,377.11 845.9,379.47 847.13,379.47 848.55,380.41 849.96,381.36 851.38,382.3 852.8,383.24 854.21,381.83 855.34,385.6 856.57,388.91 857.8,386.55 858.93,383.72 860.35,380.88 861.58,378.52 862.71,377.58 863.84,373.8 864.88,370.97 866.02,371.91 867.43,372.86 868.85,373.33 870.26,372.38 872.15,372.38 873.85,371.91 874.99,373.8 876.4,376.16 877.63,374.27 878.76,372.38 879.9,374.27 881.12,376.63 882.54,378.05 883.96,377.11 885.37,378.52 886.51,377.11 887.26,374.75 888.68,375.69 889.91,374.27 891.04,374.27 891.98,377.58 892.93,372.38 894.34,370.97 895.57,368.61 896.7,372.86 897.84,372.86 899.07,371.91 900.29,373.33 901.43,376.16 902.84,378.05 904.07,376.16 905.0,373.33 906.42,374.27 907.64,376.63 908.59,378.05 909.72,376.16 911.14,374.27 912.37,372.38 913.03,371.44 914.25,373.33 915.58,375.22 917.09,376.16 918.69,376.35 920.11,375.97 921.53,375.22 922.75,370.5 923.7,367.66 924.83,372.38 926.25,371.44 927.66,370.5 929.36,369.55 930.68,369.55 931.91,367.19 932.86,366.72 933.8,369.55 935.03,373.33 936.35,375.69 937.58,376.63 938.81,374.27 940.13,369.08 941.36,365.77 942.58,365.3 943.72,364.83 944.85,367.66 946.08,370.97 947.02,370.02 948.44,372.86 949.85,370.5 951.27,368.14 952.69,365.3 953.91,362.47 955.24,361.53 956.46,364.83 957.41,371.91 958.35,377.11 959.3,380.88 960.24,382.3 961.47,379.94 962.79,378.99 964.02,378.05 965.25,375.69 966.85,375.22 968.08,370.5 969.4,367.19 970.44,370.02 971.57,376.16 972.8,382.77 973.93,383.24 975.35,383.24 976.58,378.05 977.71,377.58 979.13,378.99 980.54,377.58 981.96,376.16 982.9,376.63 984.13,379.94 985.26,381.36 986.21,383.72 987.15,380.88 988.29,384.19 989.51,385.6 990.46,384.66 991.87,386.55 993.01,385.13 994.24,382.77 995.46,383.24 996.78,381.83 998.3,380.41 999.43,381.83 1000.85,383.24 1002.26,381.36 1003.68,379.47 1004.91,381.36 1006.23,383.72 1007.46,385.6 1008.68,388.44 1009.82,386.55 1010.95,380.88 1012.18,380.41 1013.4,382.3 1014.54,384.66 1015.95,382.77 1017.37,378.05 1018.79,375.69 1020.0,379.47 1021.13,382.77 1022.36,385.6 1023.78,387.02 1025.19,388.44 1026.42,388.91 1027.55,384.66 1028.97,382.77 1029.92,382.77 1031.14,387.49 1032.09,388.91 1033.22,385.6 1034.64,383.72 1036.53,383.24 1038.41,383.24 1039.64,382.77 1040.77,380.88 1041.91,382.3 1043.14,385.6 1044.55,388.44 1045.97,391.27 1047.38,387.49 1048.8,384.66 1050.03,382.3 1051.16,380.69 1052.58,382.77 1053.81,384.66 1055.13,386.55 1056.36,390.33 1057.02,391.27 1058.24,389.38 1059.66,390.8 1060.6,391.27 1061.55,387.49 1062.68,382.77 1063.91,379.94 1065.33,381.83 1066.74,383.72 1068.16,384.19 1069.58,383.72 1070.99,383.24 1072.12,386.55 1073.35,388.91 1074.58,388.91 1075.71,385.6 1076.85,380.88 1078.07,377.11 1079.49,376.16 1080.43,376.16 1081.38,383.72 1082.32,390.33 1083.46,395.99 1084.68,400.24 1086.1,400.71 1087.23,396.46 1088.18,392.69 1089.41,391.74 1090.35,394.58 1091.29,396.94 1092.52,395.99 1093.47,396.46 1094.6,389.38 1095.73,383.24 1096.96,384.19 1097.9,386.55 1099.13,385.13 1100.08,379.94 1101.21,378.99 1102.34,379.94 1103.29,385.6 1104.51,394.1 1105.46,399.3 1106.4,400.71 1107.35,395.99 1108.57,386.55 1109.71,377.11 1110.84,370.97 1112.07,370.02 1113.3,369.08 1114.15,366.25 1115.18,370.5 1116.32,374.27 1117.45,377.58 1118.39,378.52 1119.62,373.8 1120.57,370.5 1121.51,371.44 1122.74,368.14 1123.87,365.3 1125.29,364.83 1126.52,364.36 1127.84,365.77 1129.07,368.61 1130.01,370.5 1131.43,371.44 1132.84,372.38 1134.07,367.66 1135.0,365.3 1136.42,365.77 1137.64,372.38 1138.78,380.88 1140.19,385.6 1141.42,387.02 1142.55,385.6 1143.97,384.66 1145.2,383.72 1145.86,374.27 1146.8,367.66 1147.75,368.14 1148.69,365.3 1149.92,368.14 1150.86,370.02 1152.0,365.77 1153.41,362.47 1154.64,360.58 1155.77,361.53 1156.72,361.05 1157.85,367.66 1159.08,373.33 1160.31,371.44 1161.44,366.72 1162.57,362.94 1163.8,362.0 1164.75,364.36 1165.97,361.53 1167.29,361.53 1168.52,359.64 1169.75,359.16 1170.69,355.86 1171.83,360.58 1172.96,363.41 1174.19,365.77 1175.42,368.61 1176.55,375.22 1177.68,379.94 1178.63,378.99 1179.57,372.38 1180.51,366.72 1181.46,363.41 1182.69,365.3 1183.91,367.19 1185.05,368.61 1186.18,369.55 1187.41,368.14 1188.54,371.44 1189.77,368.61 1190.9,362.47 1192.13,358.22 1193.36,355.86 1194.49,355.39 1195.62,356.8 1196.85,357.75 1197.8,361.05 1199.02,362.0 1200.16,362.0 1201.29,366.72 1202.52,370.5 1203.74,372.38 1204.88,364.83 1206.01,359.64 1207.24,356.33 1208.18,355.39 1209.41,357.28 1210.54,356.8 1211.96,356.8 1213.38,353.97 1214.51,357.28 1215.74,363.89 1216.96,368.14 1217.91,370.97 1219.04,369.55 1219.99,365.77 1221.12,367.66 1222.35,371.91 1223.57,373.33 1224.9,372.86 1225.84,370.5 1227.07,362.94 1228.01,355.39 1228.96,353.5 1230.18,354.92 1231.32,354.44 1232.26,355.86 1233.39,359.16 1234.34,356.33 1235.28,357.28 1236.51,367.66 1237.74,372.86 1238.87,371.44 1240.0,369.08 1241.13,363.89 1242.36,359.16 1243.59,353.97 1244.72,353.5 1245.85,357.28 1247.08,366.72 1248.5,370.97 1249.73,368.14 1251.14,369.08 1252.28,371.44 1253.41,374.75 1254.16,365.3 1255.3,364.36 1256.53,367.19 1257.94,366.25 1259.36,364.83 1261.25,364.36 1263.61,366.25 1265.5,365.77 1267.38,364.83 1268.8,363.41 1270.22,362.0 1271.63,362.94 1273.05,362.47 1274.47,358.69 1275.69,361.53 1277.3,363.89 1278.72,364.83 1280.42,366.25 1282.02,368.14 1283.44,367.66 1284.85,369.55 1286.27,372.38 1287.69,368.14 1289.1,363.41 1290.05,359.16 1290.99,357.75 1292.12,364.83 1293.82,365.59 1296.66,365.77 1299.49,365.77"/>
</g>
<rect x="101.7" y="348.9" width="1198.0" height="82.9" fill="none" stroke="#000" stroke-width="1.1" stroke-opacity="0.8"/>
<line x1="102.5" y1="431.8" x2="102.5" y2="435.40000000000003" stroke="#000" stroke-width="1.0"/>
<text x="102.5" y="447.7" font-size="9.7" fill="#000" class="s" text-anchor="middle" >3500</text>
<line x1="161.36" y1="431.8" x2="161.36" y2="435.40000000000003" stroke="#000" stroke-width="1.0"/>
<text x="161.36" y="447.7" font-size="9.7" fill="#000" class="s" text-anchor="middle" >3600</text>
<line x1="220.21" y1="431.8" x2="220.21" y2="435.40000000000003" stroke="#000" stroke-width="1.0"/>
<text x="220.21" y="447.7" font-size="9.7" fill="#000" class="s" text-anchor="middle" >3700</text>
<line x1="279.06" y1="431.8" x2="279.06" y2="435.40000000000003" stroke="#000" stroke-width="1.0"/>
<text x="279.06" y="447.7" font-size="9.7" fill="#000" class="s" text-anchor="middle" >3800</text>
<line x1="337.92" y1="431.8" x2="337.92" y2="435.40000000000003" stroke="#000" stroke-width="1.0"/>
<text x="337.92" y="447.7" font-size="9.7" fill="#000" class="s" text-anchor="middle" >3900</text>
<line x1="396.78" y1="431.8" x2="396.78" y2="435.40000000000003" stroke="#000" stroke-width="1.0"/>
<text x="396.78" y="447.7" font-size="9.7" fill="#000" class="s" text-anchor="middle" >4000</text>
<line x1="455.63" y1="431.8" x2="455.63" y2="435.40000000000003" stroke="#000" stroke-width="1.0"/>
<text x="455.63" y="447.7" font-size="9.7" fill="#000" class="s" text-anchor="middle" >4100</text>
<line x1="514.49" y1="431.8" x2="514.49" y2="435.40000000000003" stroke="#000" stroke-width="1.0"/>
<text x="514.49" y="447.7" font-size="9.7" fill="#000" class="s" text-anchor="middle" >4200</text>
<line x1="573.34" y1="431.8" x2="573.34" y2="435.40000000000003" stroke="#000" stroke-width="1.0"/>
<text x="573.34" y="447.7" font-size="9.7" fill="#000" class="s" text-anchor="middle" >4300</text>
<line x1="632.2" y1="431.8" x2="632.2" y2="435.40000000000003" stroke="#000" stroke-width="1.0"/>
<text x="632.2" y="447.7" font-size="9.7" fill="#000" class="s" text-anchor="middle" >4400</text>
<line x1="691.05" y1="431.8" x2="691.05" y2="435.40000000000003" stroke="#000" stroke-width="1.0"/>
<text x="691.05" y="447.7" font-size="9.7" fill="#000" class="s" text-anchor="middle" >4500</text>
<line x1="749.9" y1="431.8" x2="749.9" y2="435.40000000000003" stroke="#000" stroke-width="1.0"/>
<text x="749.9" y="447.7" font-size="9.7" fill="#000" class="s" text-anchor="middle" >4600</text>
<line x1="808.76" y1="431.8" x2="808.76" y2="435.40000000000003" stroke="#000" stroke-width="1.0"/>
<text x="808.76" y="447.7" font-size="9.7" fill="#000" class="s" text-anchor="middle" >4700</text>
<line x1="867.62" y1="431.8" x2="867.62" y2="435.40000000000003" stroke="#000" stroke-width="1.0"/>
<text x="867.62" y="447.7" font-size="9.7" fill="#000" class="s" text-anchor="middle" >4800</text>
<line x1="926.47" y1="431.8" x2="926.47" y2="435.40000000000003" stroke="#000" stroke-width="1.0"/>
<text x="926.47" y="447.7" font-size="9.7" fill="#000" class="s" text-anchor="middle" >4900</text>
<line x1="985.33" y1="431.8" x2="985.33" y2="435.40000000000003" stroke="#000" stroke-width="1.0"/>
<text x="985.33" y="447.7" font-size="9.7" fill="#000" class="s" text-anchor="middle" >5000</text>
<line x1="1044.18" y1="431.8" x2="1044.18" y2="435.40000000000003" stroke="#000" stroke-width="1.0"/>
<text x="1044.18" y="447.7" font-size="9.7" fill="#000" class="s" text-anchor="middle" >5100</text>
<line x1="1103.04" y1="431.8" x2="1103.04" y2="435.40000000000003" stroke="#000" stroke-width="1.0"/>
<text x="1103.04" y="447.7" font-size="9.7" fill="#000" class="s" text-anchor="middle" >5200</text>
<line x1="1161.89" y1="431.8" x2="1161.89" y2="435.40000000000003" stroke="#000" stroke-width="1.0"/>
<text x="1161.89" y="447.7" font-size="9.7" fill="#000" class="s" text-anchor="middle" >5300</text>
<line x1="1220.75" y1="431.8" x2="1220.75" y2="435.40000000000003" stroke="#000" stroke-width="1.0"/>
<text x="1220.75" y="447.7" font-size="9.7" fill="#000" class="s" text-anchor="middle" >5400</text>
<line x1="1279.6" y1="431.8" x2="1279.6" y2="435.40000000000003" stroke="#000" stroke-width="1.0"/>
<text x="1279.6" y="447.7" font-size="9.7" fill="#000" class="s" text-anchor="middle" >5500</text>
<line x1="98.10000000000001" y1="430.6" x2="101.7" y2="430.6" stroke="#000" stroke-width="1.0"/>
<text x="94.9" y="434.3" font-size="9.7" fill="#000" class="s" text-anchor="end" >0</text>
<line x1="98.10000000000001" y1="403.4" x2="101.7" y2="403.4" stroke="#000" stroke-width="1.0"/>
<text x="94.9" y="407.1" font-size="9.7" fill="#000" class="s" text-anchor="end" >10</text>
<line x1="98.10000000000001" y1="376.2" x2="101.7" y2="376.2" stroke="#000" stroke-width="1.0"/>
<text x="94.9" y="379.9" font-size="9.7" fill="#000" class="s" text-anchor="end" >20</text>
<line x1="98.10000000000001" y1="349.0" x2="101.7" y2="349.0" stroke="#000" stroke-width="1.0"/>
<text x="94.9" y="352.7" font-size="9.7" fill="#000" class="s" text-anchor="end" >30</text>
<text x="103.0" y="346.3" font-size="9.7" fill="#000" class="s" >e</text>
<text x="109.11" y="342.61" font-size="6.79" fill="#000" class="s" >−17</text>
<text x="123.84" y="346.3" font-size="9.7" fill="#000" class="s" >x2</text>
<text x="135.75" y="346.3" font-size="9.7" fill="#000" class="s i" >Å</text>
<text transform="translate(138.30,348.00) rotate(90)" font-size="9.7" fill="#87ceeb" fill-opacity="0.78" class="s" text-anchor="end">MgII {</text>
<text transform="translate(157.20,348.00) rotate(90)" font-size="9.7" fill="#87ceeb" fill-opacity="0.78" class="s" text-anchor="end">MgII {</text>
<text transform="translate(219.50,348.00) rotate(90)" font-size="9.7" fill="#800080" fill-opacity="1" class="s" text-anchor="end">SiIV {</text>
<text transform="translate(244.10,348.80) rotate(90)" font-size="9.7" fill="#ffa500" fill-opacity="1" class="s" text-anchor="end">Ly<tspan class="i">α</tspan> {</text>
<text transform="translate(256.30,348.00) rotate(90)" font-size="9.7" fill="#00ff00" fill-opacity="1" class="s" text-anchor="end">OII  {</text>
<text transform="translate(273.70,348.00) rotate(90)" font-size="9.7" fill="#008000" fill-opacity="1" class="s" text-anchor="end">MgII {</text>
<text transform="translate(277.70,306.20) rotate(90)" font-size="9.7" fill="#00ff00" fill-opacity="1" class="s" text-anchor="end">OII  {</text>
<text transform="translate(290.90,348.00) rotate(90)" font-size="9.7" fill="#ffa500" fill-opacity="1" class="s" text-anchor="end">NV   {</text>
<text transform="translate(322.30,348.00) rotate(90)" font-size="9.7" fill="#0000ff" fill-opacity="0.85" class="s" text-anchor="end">OII  {</text>
<text transform="translate(332.30,348.00) rotate(90)" font-size="9.7" fill="#ffa500" fill-opacity="0.7" class="s" text-anchor="end">SiII {</text>
<text transform="translate(373.50,348.80) rotate(90)" font-size="9.7" fill="#8a2be2" fill-opacity="1" class="s" text-anchor="end">Ly<tspan class="i">α</tspan> {</text>
<text transform="translate(423.70,348.00) rotate(90)" font-size="9.7" fill="#8a2be2" fill-opacity="1" class="s" text-anchor="end">NV   {</text>
<text transform="translate(456.30,348.00) rotate(90)" font-size="9.7" fill="#800080" fill-opacity="1" class="s" text-anchor="end">CIV  {</text>
<text transform="translate(466.60,348.00) rotate(90)" font-size="9.7" fill="#8a2be2" fill-opacity="0.75" class="s" text-anchor="end">SiII {</text>
<text transform="translate(511.50,348.00) rotate(90)" font-size="9.7" fill="#ff00ff" fill-opacity="1" class="s" text-anchor="end">CII  {</text>
<text transform="translate(573.70,348.00) rotate(90)" font-size="9.7" fill="#ff0000" fill-opacity="1" class="s" text-anchor="end">OVI  {</text>
<text transform="translate(576.30,306.20) rotate(90)" font-size="9.7" fill="#ffa500" fill-opacity="1" class="s" text-anchor="end">SiIV {</text>
<text transform="translate(596.30,306.20) rotate(90)" font-size="9.7" fill="#4169e1" fill-opacity="1" class="s" text-anchor="end">OII  {</text>
<text transform="translate(597.70,348.00) rotate(90)" font-size="9.7" fill="#800080" fill-opacity="1" class="s" text-anchor="end">HeII {</text>
<text transform="translate(618.10,348.80) rotate(90)" font-size="9.7" fill="#00ff00" fill-opacity="1" class="s" text-anchor="end">H<tspan class="i">γ</tspan> {</text>
<text transform="translate(643.10,348.80) rotate(90)" font-size="9.7" fill="#00ff00" fill-opacity="1" class="s" text-anchor="end">H<tspan class="i">γ</tspan> {</text>
<text transform="translate(692.60,306.20) rotate(90)" font-size="9.7" fill="#4169e1" fill-opacity="1" class="s" text-anchor="end">NeIII {</text>
<text transform="translate(696.10,348.80) rotate(90)" font-size="9.7" fill="#0000ff" fill-opacity="1" class="s" text-anchor="end">H<tspan class="i">γ</tspan> {</text>
<text transform="translate(724.90,348.00) rotate(90)" font-size="9.7" fill="#8a2be2" fill-opacity="1" class="s" text-anchor="end">SiIV {</text>
<text transform="translate(836.00,348.00) rotate(90)" font-size="9.7" fill="#87ceeb" fill-opacity="0.78" class="s" text-anchor="end">OII  {</text>
<text transform="translate(851.70,348.00) rotate(90)" font-size="9.7" fill="#ffa500" fill-opacity="1" class="s" text-anchor="end">CIV  {</text>
<text transform="translate(860.90,348.00) rotate(90)" font-size="9.7" fill="#87ceeb" fill-opacity="0.78" class="s" text-anchor="end">OII  {</text>
<text transform="translate(928.70,348.80) rotate(90)" font-size="9.7" fill="#00ff00" fill-opacity="1" class="s" text-anchor="end">H<tspan class="i">β</tspan> {</text>
<text transform="translate(956.40,348.80) rotate(90)" font-size="9.7" fill="#00ff00" fill-opacity="1" class="s" text-anchor="end">H<tspan class="i">β</tspan> {</text>
<text transform="translate(987.70,348.00) rotate(90)" font-size="9.7" fill="#00ff00" fill-opacity="1" class="s" text-anchor="end">OIII {</text>
<text transform="translate(1044.90,348.00) rotate(90)" font-size="9.7" fill="#00ff00" fill-opacity="1" class="s" text-anchor="end">OIII {</text>
<text transform="translate(1076.30,306.20) rotate(90)" font-size="9.7" fill="#0000ff" fill-opacity="1" class="s" text-anchor="end">OIII {</text>
<text transform="translate(1077.50,348.00) rotate(90)" font-size="9.7" fill="#ff0000" fill-opacity="1" class="s" text-anchor="end">NV   {</text>
<text transform="translate(1105.50,348.00) rotate(90)" font-size="9.7" fill="#0000ff" fill-opacity="1" class="s" text-anchor="end">OIII {</text>
<text transform="translate(1134.00,348.00) rotate(90)" font-size="9.7" fill="#ff0000" fill-opacity="1" class="s" text-anchor="end">SiII {</text>
<text transform="translate(1191.20,348.00) rotate(90)" font-size="9.7" fill="#8a2be2" fill-opacity="0.75" class="s" text-anchor="end">HeII {</text>
<text transform="translate(1208.00,348.00) rotate(90)" font-size="9.7" fill="#008000" fill-opacity="1" class="s" text-anchor="end">NeIII {</text>
<text transform="translate(1208.30,306.20) rotate(90)" font-size="9.7" fill="#008000" fill-opacity="1" class="s" text-anchor="end">(H)CaII {</text>
<text transform="translate(1294.10,348.80) rotate(90)" font-size="9.7" fill="#87ceeb" fill-opacity="0.78" class="s" text-anchor="end">H<tspan class="i">γ</tspan> {</text>
<rect x="403.0" y="450.2" width="17.2" height="6.0" fill="#ff0000"/>
<text x="426.3" y="456.6" font-size="8.05" fill="#333" class="s">Ly<tspan class="i">α</tspan></text>
<rect x="457.0" y="450.2" width="17.2" height="6.0" fill="#008000"/>
<text x="480.3" y="456.6" font-size="8.05" fill="#333" class="s" >OII</text>
<rect x="509.8" y="450.2" width="17.2" height="6.0" fill="#00ff00"/>
<text x="533.1" y="456.6" font-size="8.05" fill="#333" class="s" >OIII</text>
<rect x="561.9" y="450.2" width="17.2" height="6.0" fill="#8a2be2"/>
<text x="585.2" y="456.6" font-size="8.05" fill="#333" class="s" >CIV</text>
<rect x="617.2" y="450.2" width="17.2" height="6.0" fill="#800080"/>
<text x="640.5" y="456.6" font-size="8.05" fill="#333" class="s" >CIII</text>
<rect x="669.3" y="450.2" width="17.2" height="6.0" fill="#ff00ff"/>
<text x="692.6" y="456.6" font-size="8.05" fill="#333" class="s" >MgII</text>
<rect x="724.5" y="450.2" width="17.2" height="6.0" fill="#0000ff"/>
<text x="747.8" y="456.6" font-size="8.05" fill="#333" class="s">H<tspan class="i">β</tspan></text>
<rect x="775.2" y="450.2" width="17.2" height="6.0" fill="#4169e1"/>
<text x="798.5" y="456.6" font-size="8.05" fill="#333" class="s">H<tspan class="i">γ</tspan></text>
<rect x="825.5" y="450.2" width="17.2" height="6.0" fill="#ffa500"/>
<text x="848.8" y="456.6" font-size="8.05" fill="#333" class="s" >HeII</text>
<rect x="880.6" y="450.2" width="17.2" height="6.0" fill="#87ceeb"/>
<text x="903.9" y="456.6" font-size="8.05" fill="#333" class="s" >(K)CaII</text>
<rect x="946.4" y="450.2" width="17.2" height="6.0" fill="#87ceeb"/>
<text x="969.7" y="456.6" font-size="8.05" fill="#333" class="s" >(H)CaII</text>
<filter id="nz10" x="0" y="0" width="100%" height="100%" color-interpolation-filters="sRGB"><feTurbulence type="fractalNoise" baseFrequency="0.25" numOctaves="2" seed="3" result="t"/><feColorMatrix in="t" type="matrix" values="1 0 0 0 0  1 0 0 0 0  1 0 0 0 0  0 0 0 0 1" result="n1"/><feComposite in="SourceGraphic" in2="n1" operator="arithmetic" k1="0" k2="1" k3="0.15" k4="-0.075"/></filter>
<filter id="nz11" x="0" y="0" width="100%" height="100%" color-interpolation-filters="sRGB"><feTurbulence type="fractalNoise" baseFrequency="0.25" numOctaves="2" seed="8" result="t"/><feColorMatrix in="t" type="matrix" values="1 0 0 0 0  1 0 0 0 0  1 0 0 0 0  0 0 0 0 1" result="n1"/><feComposite in="SourceGraphic" in2="n1" operator="arithmetic" k1="0" k2="1" k3="0.07" k4="-0.035"/></filter>
<filter id="nz12" x="0" y="0" width="100%" height="100%" color-interpolation-filters="sRGB"><feTurbulence type="fractalNoise" baseFrequency="0.25" numOctaves="2" seed="13" result="t"/><feColorMatrix in="t" type="matrix" values="1 0 0 0 0  1 0 0 0 0  1 0 0 0 0  0 0 0 0 1" result="n1"/><feComposite in="SourceGraphic" in2="n1" operator="arithmetic" k1="0" k2="1" k3="0.11" k4="-0.055"/></filter>
<clipPath id="cst0"><rect x="69.90" y="532.9" width="148.4" height="147.70"/></clipPath>
<g clip-path="url(#cst0)">
<rect x="69.90" y="532.9" width="148.4" height="147.70" fill="#fcfcfc"/>
<radialGradient id="rg13"><stop offset="0.000" stop-color="#000" stop-opacity="0.34"/><stop offset="0.500" stop-color="#000" stop-opacity="0.18700000000000003"/><stop offset="1.000" stop-color="#000" stop-opacity="0"/></radialGradient>
<ellipse cx="132.5" cy="620.0" rx="34" ry="30" fill="url(#rg13)"/>
<radialGradient id="rg14"><stop offset="0.000" stop-color="#000" stop-opacity="1"/><stop offset="0.441" stop-color="#000" stop-opacity="1"/><stop offset="0.482" stop-color="#000" stop-opacity="0.86"/><stop offset="0.523" stop-color="#000" stop-opacity="0.58"/><stop offset="0.568" stop-color="#000" stop-opacity="0.33"/><stop offset="0.636" stop-color="#000" stop-opacity="0.14"/><stop offset="0.773" stop-color="#000" stop-opacity="0.05"/><stop offset="1.000" stop-color="#000" stop-opacity="0"/></radialGradient>
<ellipse cx="133.0" cy="619.5" rx="35.2" ry="40.0" fill="url(#rg14)"/>
<radialGradient id="rg15"><stop offset="0.000" stop-color="#000" stop-opacity="0.1"/><stop offset="0.500" stop-color="#000" stop-opacity="0.05500000000000001"/><stop offset="1.000" stop-color="#000" stop-opacity="0"/></radialGradient>
<ellipse cx="136.0" cy="559.0" rx="7" ry="6" fill="url(#rg15)"/>
</g>
<circle cx="135.8" cy="559.6" r="12.4" fill="none" stroke="#727272" stroke-width="1.3"/>
<circle cx="114.2" cy="571.4" r="12.4" fill="none" stroke="#727272" stroke-width="1.3"/>
<circle cx="177.4" cy="562.2" r="12.4" fill="none" stroke="#727272" stroke-width="1.3"/>
<circle cx="155.7" cy="572.6" r="12.4" fill="none" stroke="#727272" stroke-width="1.3"/>
<circle cx="155.7" cy="572.6" r="12.9" fill="none" stroke="#808080" stroke-width="1.6" stroke-dasharray="2.2 1.6"/>
<circle cx="113.3" cy="595.1" r="12.4" fill="none" stroke="#727272" stroke-width="1.3"/>
<circle cx="176.0" cy="587.0" r="12.4" fill="none" stroke="#727272" stroke-width="1.3"/>
<circle cx="176.0" cy="587.0" r="12.9" fill="none" stroke="#808080" stroke-width="1.6" stroke-dasharray="2.2 1.6"/>
<circle cx="197.3" cy="599.4" r="12.4" fill="none" stroke="#727272" stroke-width="1.3"/>
<circle cx="197.3" cy="599.4" r="12.9" fill="none" stroke="#808080" stroke-width="1.6" stroke-dasharray="2.2 1.6"/>
<circle cx="91.2" cy="607.2" r="12.4" fill="none" stroke="#727272" stroke-width="1.3"/>
<circle cx="91.2" cy="607.2" r="12.9" fill="none" stroke="#808080" stroke-width="1.6" stroke-dasharray="2.2 1.6"/>
<circle cx="110.2" cy="620.2" r="12.4" fill="none" stroke="#727272" stroke-width="1.3"/>
<circle cx="110.2" cy="620.2" r="12.9" fill="none" stroke="#808080" stroke-width="1.6" stroke-dasharray="2.2 1.6"/>
<circle cx="132.7" cy="633.2" r="12.4" fill="none" stroke="#727272" stroke-width="1.3"/>
<circle cx="132.7" cy="633.2" r="12.9" fill="none" stroke="#808080" stroke-width="1.6" stroke-dasharray="2.2 1.6"/>
<circle cx="133.6" cy="584.4" r="12.4" fill="none" stroke="#ff0000" stroke-width="1.4"/>
<circle cx="154.9" cy="596.8" r="12.4" fill="none" stroke="#00ff00" stroke-width="1.2"/>
<circle cx="154.9" cy="596.8" r="12.700000000000001" fill="none" stroke="#00ff00" stroke-width="2.2" stroke-dasharray="3.0 1.5"/>
<circle cx="152.6" cy="622.0" r="12.4" fill="none" stroke="#ffa500" stroke-width="0.9"/>
<circle cx="152.6" cy="622.0" r="12.700000000000001" fill="none" stroke="#ffa500" stroke-width="1.9" stroke-dasharray="2.2 1.9"/>
<circle cx="132.7" cy="609.3" r="12.4" fill="none" stroke="#0000ff" stroke-width="1.2"/>
<circle cx="132.7" cy="609.3" r="12.700000000000001" fill="none" stroke="#0000ff" stroke-width="2.3" stroke-dasharray="2.6 1.5"/>
<path d="M140.5,606.5H147.1M143.8,604.1V609.3" stroke="#ff0000" stroke-width="1.3" fill="none"/>
<rect x="95.2" y="557.8" width="98.3" height="98.1" fill="none" stroke="#ff0000" stroke-width="1.35"/>
<text x="144.1" y="546.2" font-size="10.8" fill="#ff0000" class="s" text-anchor="middle" >N</text>
<text x="79.8" y="610.4" font-size="10.8" fill="#ff0000" class="s" text-anchor="middle" >E</text>
<rect x="69.90" y="532.9" width="148.4" height="147.70" fill="none" stroke="#000" stroke-opacity="0.88" stroke-width="1.3"/>
<line x1="78.70" y1="680.6" x2="78.70" y2="684.5" stroke="#000" stroke-width="1.15"/>
<line x1="66.10" y1="672.10" x2="69.90" y2="672.10" stroke="#000" stroke-width="1.15"/>
<text x="78.7" y="696.3" font-size="10.6" fill="#000" class="s" text-anchor="middle" >−4</text>
<text x="62.1" y="676.0" font-size="10.6" fill="#000" class="s" text-anchor="end" >−4</text>
<line x1="111.40" y1="680.6" x2="111.40" y2="684.5" stroke="#000" stroke-width="1.15"/>
<line x1="66.10" y1="639.30" x2="69.90" y2="639.30" stroke="#000" stroke-width="1.15"/>
<text x="111.4" y="696.3" font-size="10.6" fill="#000" class="s" text-anchor="middle" >−2</text>
<text x="62.1" y="643.2" font-size="10.6" fill="#000" class="s" text-anchor="end" >−2</text>
<line x1="144.10" y1="680.6" x2="144.10" y2="684.5" stroke="#000" stroke-width="1.15"/>
<line x1="66.10" y1="606.50" x2="69.90" y2="606.50" stroke="#000" stroke-width="1.15"/>
<text x="144.1" y="696.3" font-size="10.6" fill="#000" class="s" text-anchor="middle" >0</text>
<text x="62.1" y="610.4" font-size="10.6" fill="#000" class="s" text-anchor="end" >0</text>
<line x1="176.80" y1="680.6" x2="176.80" y2="684.5" stroke="#000" stroke-width="1.15"/>
<line x1="66.10" y1="573.70" x2="69.90" y2="573.70" stroke="#000" stroke-width="1.15"/>
<text x="176.8" y="696.3" font-size="10.6" fill="#000" class="s" text-anchor="middle" >2</text>
<text x="62.1" y="577.6" font-size="10.6" fill="#000" class="s" text-anchor="end" >2</text>
<line x1="209.50" y1="680.6" x2="209.50" y2="684.5" stroke="#000" stroke-width="1.15"/>
<line x1="66.10" y1="540.90" x2="69.90" y2="540.90" stroke="#000" stroke-width="1.15"/>
<text x="209.5" y="696.3" font-size="10.6" fill="#000" class="s" text-anchor="middle" >4</text>
<text x="62.1" y="544.8" font-size="10.6" fill="#000" class="s" text-anchor="end" >4</text>
<text x="144.0" y="525.9" font-size="12.93" fill="#111" class="s" text-anchor="middle" stroke="#111" stroke-width="0.15">Fiber Positions</text>
<text x="144.1" y="706.6" font-size="10.8" fill="#111" class="s" text-anchor="middle" >arcsecs</text>
<clipPath id="cst1"><rect x="255.18" y="532.9" width="148.4" height="147.70"/></clipPath>
<g clip-path="url(#cst1)">
<filter id="vir" filterUnits="userSpaceOnUse" x="240" y="520" width="180" height="175" color-interpolation-filters="sRGB"><feGaussianBlur stdDeviation="1.7"/><feComponentTransfer><feFuncR type="table" tableValues="0.267 0.282 0.282 0.271 0.255 0.231 0.208 0.184 0.165 0.145 0.129 0.118 0.133 0.184 0.267 0.369 0.478 0.608 0.741 0.875 0.992"/><feFuncG type="table" tableValues="0.004 0.078 0.141 0.216 0.267 0.322 0.373 0.420 0.471 0.518 0.569 0.612 0.659 0.706 0.749 0.788 0.820 0.851 0.875 0.890 0.906"/><feFuncB type="table" tableValues="0.329 0.404 0.459 0.506 0.529 0.545 0.553 0.557 0.557 0.557 0.549 0.537 0.518 0.486 0.439 0.384 0.318 0.235 0.149 0.094 0.145"/><feFuncA type="linear" slope="0" intercept="1"/></feComponentTransfer></filter>
<g filter="url(#vir)">
<rect x="240" y="520" width="180" height="175" fill="#4a4a4a"/>
<g transform="translate(262,606) rotate(0)"><rect x="-24.0" y="-48.0" width="48.0" height="96.0" rx="0" fill="#4a4a4a"/><rect x="-20.0" y="-40.0" width="40.0" height="80.0" rx="0" fill="#4f4f4f"/><rect x="-16.0" y="-32.0" width="32.0" height="64.0" rx="0" fill="#545454"/><rect x="-12.0" y="-24.0" width="24.0" height="48.0" rx="0" fill="#595959"/><rect x="-8.0" y="-16.0" width="16.0" height="32.0" rx="0" fill="#5e5e5e"/></g>
<g transform="translate(388,578) rotate(-27.9)"><rect x="-23.4" y="-33.8" width="46.8" height="67.6" rx="0" fill="#4a4a4a"/><rect x="-19.8" y="-28.6" width="39.6" height="57.2" rx="0" fill="#525252"/><rect x="-16.2" y="-23.4" width="32.4" height="46.8" rx="0" fill="#5b5b5b"/><rect x="-12.6" y="-18.2" width="25.2" height="36.4" rx="0" fill="#636363"/><rect x="-9.0" y="-13.0" width="18.0" height="26.0" rx="0" fill="#6b6b6b"/></g>
<g transform="translate(304,563) rotate(-27.9)"><rect x="-45.0" y="-24.0" width="90.0" height="48.0" rx="0" fill="#4a4a4a"/><rect x="-39.6" y="-21.1" width="79.2" height="42.2" rx="0" fill="#565656"/><rect x="-34.2" y="-18.2" width="68.4" height="36.5" rx="0" fill="#616161"/><rect x="-28.8" y="-15.4" width="57.6" height="30.7" rx="0" fill="#6d6d6d"/><rect x="-23.4" y="-12.5" width="46.8" height="25.0" rx="0" fill="#797979"/><rect x="-18.0" y="-9.6" width="36.0" height="19.2" rx="0" fill="#858585"/></g>
<g transform="translate(314,542.0) rotate(-27.9)"><rect x="-46.8" y="-13.0" width="93.6" height="26.0" rx="0" fill="#7a7a7a"/><rect x="-39.7" y="-11.0" width="79.5" height="22.1" rx="0" fill="#8c8c8c"/><rect x="-32.7" y="-9.1" width="65.4" height="18.2" rx="0" fill="#9d9d9d"/><rect x="-25.6" y="-7.1" width="51.3" height="14.2" rx="0" fill="#aeaeae"/><rect x="-18.6" y="-5.2" width="37.2" height="10.3" rx="0" fill="#c0c0c0"/><rect x="-11.5" y="-3.2" width="23.0" height="6.4" rx="0" fill="#d1d1d1"/></g>
<g transform="translate(276,627) rotate(-27.9)"><rect x="-32.0" y="-18.0" width="64.0" height="36.0" rx="0" fill="#4c4c4c"/><rect x="-27.2" y="-15.3" width="54.4" height="30.6" rx="0" fill="#585858"/><rect x="-22.4" y="-12.6" width="44.8" height="25.2" rx="0" fill="#636363"/><rect x="-17.6" y="-9.9" width="35.2" height="19.8" rx="0" fill="#6e6e6e"/><rect x="-12.8" y="-7.2" width="25.6" height="14.4" rx="0" fill="#797979"/><rect x="-8.0" y="-4.5" width="16.0" height="9.0" rx="0" fill="#858585"/></g>
<g transform="translate(258,664) rotate(-27.9)"><rect x="-12.0" y="-12.0" width="24.0" height="24.0" rx="0" fill="#404040"/><rect x="-9.3" y="-9.3" width="18.7" height="18.7" rx="0" fill="#515151"/><rect x="-6.7" y="-6.7" width="13.3" height="13.3" rx="0" fill="#626262"/><rect x="-4.0" y="-4.0" width="8.0" height="8.0" rx="0" fill="#737373"/></g>
<g transform="translate(275.0,561.5) rotate(-27.9)"><rect x="-17.7" y="-18.6" width="35.4" height="37.2" rx="0" fill="#3b3b3b"/><rect x="-15.4" y="-16.2" width="30.8" height="32.3" rx="0" fill="#2c2c2c"/><rect x="-13.1" y="-13.8" width="26.2" height="27.5" rx="0" fill="#1e1e1e"/><rect x="-10.8" y="-11.3" width="21.6" height="22.7" rx="0" fill="#0f0f0f"/><rect x="-8.5" y="-8.9" width="17.0" height="17.9" rx="0" fill="#000000"/></g>
<g transform="translate(345.7,548.0) rotate(0)"><rect x="-20.2" y="-16.2" width="40.5" height="32.4" rx="4" fill="#2c2c2c"/><rect x="-17.9" y="-14.3" width="35.8" height="28.6" rx="4" fill="#1e1e1e"/><rect x="-15.5" y="-12.4" width="31.0" height="24.8" rx="4" fill="#0f0f0f"/><rect x="-13.1" y="-10.5" width="26.2" height="21.0" rx="4" fill="#000000"/></g>
<g transform="translate(403,545) rotate(-20)"><rect x="-36.0" y="-50.4" width="72.0" height="100.8" rx="0" fill="#4a4a4a"/><rect x="-32.3" y="-45.3" width="64.7" height="90.5" rx="0" fill="#3e3e3e"/><rect x="-28.7" y="-40.1" width="57.3" height="80.3" rx="0" fill="#313131"/><rect x="-25.0" y="-35.0" width="50.0" height="70.0" rx="0" fill="#252525"/><rect x="-21.3" y="-29.9" width="42.7" height="59.7" rx="0" fill="#191919"/><rect x="-17.7" y="-24.7" width="35.3" height="49.5" rx="0" fill="#0c0c0c"/><rect x="-14.0" y="-19.6" width="28.0" height="39.2" rx="0" fill="#000000"/></g>
<g transform="translate(302,590.0) rotate(-27.9)"><rect x="-45.0" y="-9.0" width="90.0" height="18.0" rx="0" fill="#4a4a4a"/><rect x="-35.0" y="-7.0" width="70.0" height="14.0" rx="0" fill="#3c3c3c"/><rect x="-25.0" y="-5.0" width="50.0" height="10.0" rx="0" fill="#2f2f2f"/><rect x="-15.0" y="-3.0" width="30.0" height="6.0" rx="0" fill="#212121"/></g>
<g transform="translate(362.5,584.0) rotate(-27.9)"><rect x="-23.0" y="-23.0" width="46.0" height="46.0" rx="0" fill="#6b6b6b"/><rect x="-20.0" y="-20.0" width="40.0" height="40.0" rx="0" fill="#606060"/><rect x="-17.0" y="-17.0" width="34.0" height="34.0" rx="0" fill="#555555"/><rect x="-14.0" y="-14.0" width="28.0" height="28.0" rx="0" fill="#4a4a4a"/></g>
<g transform="translate(362.5,584.0) rotate(-27.9)"><rect x="-15.0" y="-15.0" width="30.0" height="30.0" rx="0" fill="#4a4a4a"/><rect x="-13.5" y="-13.5" width="27.0" height="27.0" rx="0" fill="#373737"/><rect x="-12.0" y="-12.0" width="24.0" height="24.0" rx="0" fill="#252525"/><rect x="-10.5" y="-10.5" width="21.0" height="21.0" rx="0" fill="#121212"/><rect x="-9.0" y="-9.0" width="18.0" height="18.0" rx="0" fill="#000000"/></g>
<g transform="translate(273.5,651.5) rotate(-27.9)"><rect x="-19.0" y="-19.0" width="38.0" height="38.0" rx="0" fill="#4a4a4a"/><rect x="-17.1" y="-17.1" width="34.2" height="34.2" rx="0" fill="#3b3b3b"/><rect x="-15.2" y="-15.2" width="30.4" height="30.4" rx="0" fill="#2c2c2c"/><rect x="-13.3" y="-13.3" width="26.6" height="26.6" rx="0" fill="#1e1e1e"/><rect x="-11.4" y="-11.4" width="22.8" height="22.8" rx="0" fill="#0f0f0f"/><rect x="-9.5" y="-9.5" width="19.0" height="19.0" rx="0" fill="#000000"/></g>
<g transform="translate(325.3,616.0) rotate(-27.9)"><rect x="-34.0" y="-34.0" width="68.0" height="68.0" rx="0" fill="#4c4c4c"/><rect x="-31.9" y="-31.9" width="63.8" height="63.8" rx="0" fill="#606060"/><rect x="-29.8" y="-29.8" width="59.6" height="59.6" rx="0" fill="#747474"/><rect x="-27.7" y="-27.7" width="55.3" height="55.3" rx="0" fill="#888888"/><rect x="-25.6" y="-25.6" width="51.1" height="51.1" rx="0" fill="#9c9c9c"/><rect x="-23.4" y="-23.4" width="46.9" height="46.9" rx="0" fill="#b0b0b0"/><rect x="-21.3" y="-21.3" width="42.7" height="42.7" rx="0" fill="#c3c3c3"/><rect x="-19.2" y="-19.2" width="38.4" height="38.4" rx="0" fill="#d7d7d7"/><rect x="-17.1" y="-17.1" width="34.2" height="34.2" rx="0" fill="#ebebeb"/><rect x="-15.0" y="-15.0" width="30.0" height="30.0" rx="0" fill="#ffffff"/></g>
</g>
<polygon points="253.2,668.9 405.6,588.0 405.6,682.6 253.2,682.6" fill="#414487"/>
</g>
<path d="M292.0,606.5H322.0M336.8,606.5H366.8M329.4,569.1V599.1M329.4,613.9V643.9" stroke="#ff0000" stroke-width="1.35" fill="none"/>
<rect x="280.5" y="557.8" width="98.3" height="98.1" fill="none" stroke="#ff0000" stroke-width="1.35"/>
<text x="329.4" y="546.2" font-size="10.8" fill="#ff0000" class="s" text-anchor="middle" >N</text>
<text x="265.1" y="610.4" font-size="10.8" fill="#ff0000" class="s" text-anchor="middle" >E</text>
<rect x="255.18" y="532.9" width="148.4" height="147.70" fill="none" stroke="#000" stroke-opacity="0.88" stroke-width="1.3"/>
<line x1="263.97" y1="680.6" x2="263.97" y2="684.5" stroke="#000" stroke-width="1.15"/>
<line x1="251.38" y1="672.10" x2="255.18" y2="672.10" stroke="#000" stroke-width="1.15"/>
<text x="263.97" y="696.3" font-size="10.6" fill="#000" class="s" text-anchor="middle" >−4</text>
<text x="247.38" y="676.0" font-size="10.6" fill="#000" class="s" text-anchor="end" >−4</text>
<line x1="296.67" y1="680.6" x2="296.67" y2="684.5" stroke="#000" stroke-width="1.15"/>
<line x1="251.38" y1="639.30" x2="255.18" y2="639.30" stroke="#000" stroke-width="1.15"/>
<text x="296.67" y="696.3" font-size="10.6" fill="#000" class="s" text-anchor="middle" >−2</text>
<text x="247.38" y="643.2" font-size="10.6" fill="#000" class="s" text-anchor="end" >−2</text>
<line x1="329.37" y1="680.6" x2="329.37" y2="684.5" stroke="#000" stroke-width="1.15"/>
<line x1="251.38" y1="606.50" x2="255.18" y2="606.50" stroke="#000" stroke-width="1.15"/>
<text x="329.37" y="696.3" font-size="10.6" fill="#000" class="s" text-anchor="middle" >0</text>
<text x="247.38" y="610.4" font-size="10.6" fill="#000" class="s" text-anchor="end" >0</text>
<line x1="362.07" y1="680.6" x2="362.07" y2="684.5" stroke="#000" stroke-width="1.15"/>
<line x1="251.38" y1="573.70" x2="255.18" y2="573.70" stroke="#000" stroke-width="1.15"/>
<text x="362.07" y="696.3" font-size="10.6" fill="#000" class="s" text-anchor="middle" >2</text>
<text x="247.38" y="577.6" font-size="10.6" fill="#000" class="s" text-anchor="end" >2</text>
<line x1="394.77" y1="680.6" x2="394.77" y2="684.5" stroke="#000" stroke-width="1.15"/>
<line x1="251.38" y1="540.90" x2="255.18" y2="540.90" stroke="#000" stroke-width="1.15"/>
<text x="394.77" y="696.3" font-size="10.6" fill="#000" class="s" text-anchor="middle" >4</text>
<text x="247.38" y="544.8" font-size="10.6" fill="#000" class="s" text-anchor="end" >4</text>
<text x="329.3" y="525.9" font-size="12.93" fill="#111" class="s" text-anchor="middle" stroke="#111" stroke-width="0.15">Lineflux Map</text>
<text x="329.4" y="706.6" font-size="10.8" fill="#111" class="s" text-anchor="middle" >s/b: 2.81 +/- 0.155</text>
<clipPath id="cst2"><rect x="440.46" y="532.9" width="148.4" height="147.70"/></clipPath>
<g clip-path="url(#cst2)">
<rect x="440.46" y="532.9" width="148.4" height="147.70" fill="#e9e9e9" filter="url(#nz10)"/>
<radialGradient id="rg16"><stop offset="0.000" stop-color="#000" stop-opacity="1"/><stop offset="0.441" stop-color="#000" stop-opacity="1"/><stop offset="0.482" stop-color="#000" stop-opacity="0.86"/><stop offset="0.523" stop-color="#000" stop-opacity="0.58"/><stop offset="0.568" stop-color="#000" stop-opacity="0.33"/><stop offset="0.636" stop-color="#000" stop-opacity="0.14"/><stop offset="0.773" stop-color="#000" stop-opacity="0.05"/><stop offset="1.000" stop-color="#000" stop-opacity="0"/></radialGradient>
<ellipse cx="504.2" cy="620.0" rx="35.9" ry="40.5" fill="url(#rg16)"/>
<radialGradient id="rg17"><stop offset="0.000" stop-color="#000" stop-opacity="0.1"/><stop offset="0.500" stop-color="#000" stop-opacity="0.05500000000000001"/><stop offset="1.000" stop-color="#000" stop-opacity="0"/></radialGradient>
<ellipse cx="497.5" cy="663.5" rx="6" ry="5" fill="url(#rg17)"/>
</g>
<path d="M477.2,606.5H507.2M522.0,606.5H552.0M514.6,569.1V599.1M514.6,613.9V643.9" stroke="#ff0000" stroke-width="1.35" fill="none"/>
<ellipse cx="504.4" cy="620.7" rx="22.2" ry="23.6" fill="none" stroke="#ffd700" stroke-width="1.2"/>
<rect x="465.7" y="557.8" width="98.3" height="98.1" fill="none" stroke="#ff0000" stroke-width="1.35"/>
<text x="514.6" y="546.2" font-size="10.8" fill="#ff0000" class="s" text-anchor="middle" >N</text>
<text x="450.3" y="610.4" font-size="10.8" fill="#ff0000" class="s" text-anchor="middle" >E</text>
<rect x="440.46" y="532.9" width="148.4" height="147.70" fill="none" stroke="#000" stroke-opacity="0.88" stroke-width="1.3"/>
<line x1="449.24" y1="680.6" x2="449.24" y2="684.5" stroke="#000" stroke-width="1.15"/>
<line x1="436.66" y1="672.10" x2="440.46" y2="672.10" stroke="#000" stroke-width="1.15"/>
<text x="449.24" y="696.3" font-size="10.6" fill="#000" class="s" text-anchor="middle" >−4</text>
<text x="432.66" y="676.0" font-size="10.6" fill="#000" class="s" text-anchor="end" >−4</text>
<line x1="481.94" y1="680.6" x2="481.94" y2="684.5" stroke="#000" stroke-width="1.15"/>
<line x1="436.66" y1="639.30" x2="440.46" y2="639.30" stroke="#000" stroke-width="1.15"/>
<text x="481.94" y="696.3" font-size="10.6" fill="#000" class="s" text-anchor="middle" >−2</text>
<text x="432.66" y="643.2" font-size="10.6" fill="#000" class="s" text-anchor="end" >−2</text>
<line x1="514.64" y1="680.6" x2="514.64" y2="684.5" stroke="#000" stroke-width="1.15"/>
<line x1="436.66" y1="606.50" x2="440.46" y2="606.50" stroke="#000" stroke-width="1.15"/>
<text x="514.64" y="696.3" font-size="10.6" fill="#000" class="s" text-anchor="middle" >0</text>
<text x="432.66" y="610.4" font-size="10.6" fill="#000" class="s" text-anchor="end" >0</text>
<line x1="547.34" y1="680.6" x2="547.34" y2="684.5" stroke="#000" stroke-width="1.15"/>
<line x1="436.66" y1="573.70" x2="440.46" y2="573.70" stroke="#000" stroke-width="1.15"/>
<text x="547.34" y="696.3" font-size="10.6" fill="#000" class="s" text-anchor="middle" >2</text>
<text x="432.66" y="577.6" font-size="10.6" fill="#000" class="s" text-anchor="end" >2</text>
<line x1="580.04" y1="680.6" x2="580.04" y2="684.5" stroke="#000" stroke-width="1.15"/>
<line x1="436.66" y1="540.90" x2="440.46" y2="540.90" stroke="#000" stroke-width="1.15"/>
<text x="580.04" y="696.3" font-size="10.6" fill="#000" class="s" text-anchor="middle" >4</text>
<text x="432.66" y="544.8" font-size="10.6" fill="#000" class="s" text-anchor="end" >4</text>
<text x="514.5" y="525.9" font-size="12.93" fill="#111" class="s" text-anchor="middle" stroke="#111" stroke-width="0.15">HSC SSP(26.8) g</text>
<text x="514.6" y="706.6" font-size="10.8" fill="#111" class="s" text-anchor="middle" >m:18.8  re:1.4"  s:1.0"</text>
<text x="515.2" y="719.2" font-size="10.8" fill="#111" class="s" text-anchor="middle" >EWr: 0, PLAE: 0.041</text>
<clipPath id="cst3"><rect x="625.74" y="532.9" width="148.4" height="147.70"/></clipPath>
<g clip-path="url(#cst3)">
<rect x="625.74" y="532.9" width="148.4" height="147.70" fill="#f6f6f6" filter="url(#nz11)"/>
<radialGradient id="rg18"><stop offset="0.000" stop-color="#000" stop-opacity="1"/><stop offset="0.418" stop-color="#000" stop-opacity="1"/><stop offset="0.459" stop-color="#000" stop-opacity="0.86"/><stop offset="0.502" stop-color="#000" stop-opacity="0.58"/><stop offset="0.550" stop-color="#000" stop-opacity="0.33"/><stop offset="0.621" stop-color="#000" stop-opacity="0.14"/><stop offset="0.763" stop-color="#000" stop-opacity="0.05"/><stop offset="1.000" stop-color="#000" stop-opacity="0"/></radialGradient>
<ellipse cx="690.3" cy="620.2" rx="40.1" ry="44.1" fill="url(#rg18)"/>
<radialGradient id="rg19"><stop offset="0.000" stop-color="#000" stop-opacity="0.06"/><stop offset="0.500" stop-color="#000" stop-opacity="0.033"/><stop offset="1.000" stop-color="#000" stop-opacity="0"/></radialGradient>
<ellipse cx="698.0" cy="554.5" rx="5" ry="4" fill="url(#rg19)"/>
</g>
<path d="M662.5,606.5H692.5M707.3,606.5H737.3M699.9,569.1V599.1M699.9,613.9V643.9" stroke="#ff0000" stroke-width="1.35" fill="none"/>
<ellipse cx="689.9" cy="620.2" rx="23.8" ry="24.2" fill="none" stroke="#ffd700" stroke-width="1.2"/>
<rect x="651.0" y="557.8" width="98.3" height="98.1" fill="none" stroke="#ff0000" stroke-width="1.35"/>
<text x="699.9" y="546.2" font-size="10.8" fill="#ff0000" class="s" text-anchor="middle" >N</text>
<text x="635.6" y="610.4" font-size="10.8" fill="#ff0000" class="s" text-anchor="middle" >E</text>
<rect x="625.74" y="532.9" width="148.4" height="147.70" fill="none" stroke="#000" stroke-opacity="0.88" stroke-width="1.3"/>
<line x1="634.51" y1="680.6" x2="634.51" y2="684.5" stroke="#000" stroke-width="1.15"/>
<line x1="621.94" y1="672.10" x2="625.74" y2="672.10" stroke="#000" stroke-width="1.15"/>
<text x="634.51" y="696.3" font-size="10.6" fill="#000" class="s" text-anchor="middle" >−4</text>
<text x="617.94" y="676.0" font-size="10.6" fill="#000" class="s" text-anchor="end" >−4</text>
<line x1="667.21" y1="680.6" x2="667.21" y2="684.5" stroke="#000" stroke-width="1.15"/>
<line x1="621.94" y1="639.30" x2="625.74" y2="639.30" stroke="#000" stroke-width="1.15"/>
<text x="667.21" y="696.3" font-size="10.6" fill="#000" class="s" text-anchor="middle" >−2</text>
<text x="617.94" y="643.2" font-size="10.6" fill="#000" class="s" text-anchor="end" >−2</text>
<line x1="699.91" y1="680.6" x2="699.91" y2="684.5" stroke="#000" stroke-width="1.15"/>
<line x1="621.94" y1="606.50" x2="625.74" y2="606.50" stroke="#000" stroke-width="1.15"/>
<text x="699.91" y="696.3" font-size="10.6" fill="#000" class="s" text-anchor="middle" >0</text>
<text x="617.94" y="610.4" font-size="10.6" fill="#000" class="s" text-anchor="end" >0</text>
<line x1="732.61" y1="680.6" x2="732.61" y2="684.5" stroke="#000" stroke-width="1.15"/>
<line x1="621.94" y1="573.70" x2="625.74" y2="573.70" stroke="#000" stroke-width="1.15"/>
<text x="732.61" y="696.3" font-size="10.6" fill="#000" class="s" text-anchor="middle" >2</text>
<text x="617.94" y="577.6" font-size="10.6" fill="#000" class="s" text-anchor="end" >2</text>
<line x1="765.31" y1="680.6" x2="765.31" y2="684.5" stroke="#000" stroke-width="1.15"/>
<line x1="621.94" y1="540.90" x2="625.74" y2="540.90" stroke="#000" stroke-width="1.15"/>
<text x="765.31" y="696.3" font-size="10.6" fill="#000" class="s" text-anchor="middle" >4</text>
<text x="617.94" y="544.8" font-size="10.6" fill="#000" class="s" text-anchor="end" >4</text>
<text x="699.8" y="525.9" font-size="12.93" fill="#111" class="s" text-anchor="middle" stroke="#111" stroke-width="0.15">HSC SSP(26.4) r</text>
<text x="699.9" y="706.6" font-size="10.8" fill="#111" class="s" text-anchor="middle" >m:17.6  re:1.4"  s:1.0"</text>
<text x="700.5" y="719.2" font-size="10.8" fill="#111" class="s" text-anchor="middle" >EWr: 0, PLAE: 0.042</text>
<clipPath id="cst4"><rect x="811.02" y="532.9" width="148.4" height="147.70"/></clipPath>
<g clip-path="url(#cst4)">
<rect x="811.02" y="532.9" width="148.4" height="147.70" fill="#f1f1f1" filter="url(#nz11)"/>
<radialGradient id="rg20"><stop offset="0.000" stop-color="#000" stop-opacity="1"/><stop offset="0.296" stop-color="#000" stop-opacity="1"/><stop offset="0.329" stop-color="#000" stop-opacity="0.86"/><stop offset="0.365" stop-color="#000" stop-opacity="0.58"/><stop offset="0.405" stop-color="#000" stop-opacity="0.33"/><stop offset="0.537" stop-color="#000" stop-opacity="0.14"/><stop offset="0.710" stop-color="#000" stop-opacity="0.05"/><stop offset="1.000" stop-color="#000" stop-opacity="0"/></radialGradient>
<ellipse cx="873.6" cy="620.2" rx="56.4" ry="62.3" fill="url(#rg20)"/>
<radialGradient id="rg21"><stop offset="0.000" stop-color="#000" stop-opacity="0.3"/><stop offset="0.500" stop-color="#000" stop-opacity="0.165"/><stop offset="1.000" stop-color="#000" stop-opacity="0"/></radialGradient>
<ellipse cx="883.1" cy="554.4" rx="6" ry="5" fill="url(#rg21)"/>
<radialGradient id="rg22"><stop offset="0.000" stop-color="#000" stop-opacity="0.08"/><stop offset="0.500" stop-color="#000" stop-opacity="0.044000000000000004"/><stop offset="1.000" stop-color="#000" stop-opacity="0"/></radialGradient>
<ellipse cx="868.0" cy="663.5" rx="6" ry="7" fill="url(#rg22)"/>
</g>
<path d="M847.8,606.5H877.8M892.6,606.5H922.6M885.2,569.1V599.1M885.2,613.9V643.9" stroke="#ff0000" stroke-width="1.35" fill="none"/>
<ellipse cx="874.0" cy="618.7" rx="31.6" ry="38.3" fill="none" stroke="#ffd700" stroke-width="1.2"/>
<rect x="836.3" y="557.8" width="98.3" height="98.1" fill="none" stroke="#ff0000" stroke-width="1.35"/>
<text x="885.2" y="546.2" font-size="10.8" fill="#ff0000" class="s" text-anchor="middle" >N</text>
<text x="820.9" y="610.4" font-size="10.8" fill="#ff0000" class="s" text-anchor="middle" >E</text>
<rect x="811.02" y="532.9" width="148.4" height="147.70" fill="none" stroke="#000" stroke-opacity="0.88" stroke-width="1.3"/>
<line x1="819.78" y1="680.6" x2="819.78" y2="684.5" stroke="#000" stroke-width="1.15"/>
<line x1="807.22" y1="672.10" x2="811.02" y2="672.10" stroke="#000" stroke-width="1.15"/>
<text x="819.78" y="696.3" font-size="10.6" fill="#000" class="s" text-anchor="middle" >−4</text>
<text x="803.22" y="676.0" font-size="10.6" fill="#000" class="s" text-anchor="end" >−4</text>
<line x1="852.48" y1="680.6" x2="852.48" y2="684.5" stroke="#000" stroke-width="1.15"/>
<line x1="807.22" y1="639.30" x2="811.02" y2="639.30" stroke="#000" stroke-width="1.15"/>
<text x="852.48" y="696.3" font-size="10.6" fill="#000" class="s" text-anchor="middle" >−2</text>
<text x="803.22" y="643.2" font-size="10.6" fill="#000" class="s" text-anchor="end" >−2</text>
<line x1="885.18" y1="680.6" x2="885.18" y2="684.5" stroke="#000" stroke-width="1.15"/>
<line x1="807.22" y1="606.50" x2="811.02" y2="606.50" stroke="#000" stroke-width="1.15"/>
<text x="885.18" y="696.3" font-size="10.6" fill="#000" class="s" text-anchor="middle" >0</text>
<text x="803.22" y="610.4" font-size="10.6" fill="#000" class="s" text-anchor="end" >0</text>
<line x1="917.88" y1="680.6" x2="917.88" y2="684.5" stroke="#000" stroke-width="1.15"/>
<line x1="807.22" y1="573.70" x2="811.02" y2="573.70" stroke="#000" stroke-width="1.15"/>
<text x="917.88" y="696.3" font-size="10.6" fill="#000" class="s" text-anchor="middle" >2</text>
<text x="803.22" y="577.6" font-size="10.6" fill="#000" class="s" text-anchor="end" >2</text>
<line x1="950.58" y1="680.6" x2="950.58" y2="684.5" stroke="#000" stroke-width="1.15"/>
<line x1="807.22" y1="540.90" x2="811.02" y2="540.90" stroke="#000" stroke-width="1.15"/>
<text x="950.58" y="696.3" font-size="10.6" fill="#000" class="s" text-anchor="middle" >4</text>
<text x="803.22" y="544.8" font-size="10.6" fill="#000" class="s" text-anchor="end" >4</text>
<text x="885.1" y="525.9" font-size="12.93" fill="#111" class="s" text-anchor="middle" stroke="#111" stroke-width="0.15">HSC SSP(26.4) i</text>
<text x="885.2" y="706.6" font-size="10.8" fill="#111" class="s" text-anchor="middle" >m:17.9  re:2.1"  s:1.0"</text>
<clipPath id="cst5"><rect x="996.30" y="532.9" width="148.4" height="147.70"/></clipPath>
<g clip-path="url(#cst5)">
<rect x="996.30" y="532.9" width="148.4" height="147.70" fill="#f7f7f7" filter="url(#nz11)"/>
<radialGradient id="rg23"><stop offset="0.000" stop-color="#000" stop-opacity="1"/><stop offset="0.319" stop-color="#000" stop-opacity="1"/><stop offset="0.353" stop-color="#000" stop-opacity="0.86"/><stop offset="0.390" stop-color="#000" stop-opacity="0.58"/><stop offset="0.430" stop-color="#000" stop-opacity="0.33"/><stop offset="0.553" stop-color="#000" stop-opacity="0.14"/><stop offset="0.720" stop-color="#000" stop-opacity="0.05"/><stop offset="1.000" stop-color="#000" stop-opacity="0"/></radialGradient>
<ellipse cx="1058.9" cy="620.2" rx="52.3" ry="56.5" fill="url(#rg23)"/>
<radialGradient id="rg24"><stop offset="0.000" stop-color="#000" stop-opacity="0.08"/><stop offset="0.500" stop-color="#000" stop-opacity="0.044000000000000004"/><stop offset="1.000" stop-color="#000" stop-opacity="0"/></radialGradient>
<ellipse cx="1068.5" cy="554.5" rx="5" ry="4" fill="url(#rg24)"/>
</g>
<path d="M1033.0,606.5H1063.0M1077.9,606.5H1107.9M1070.5,569.1V599.1M1070.5,613.9V643.9" stroke="#ff0000" stroke-width="1.35" fill="none"/>
<ellipse cx="1059.4" cy="619.6" rx="30.3" ry="34.4" fill="none" stroke="#ffd700" stroke-width="1.2"/>
<rect x="1021.6" y="557.8" width="98.3" height="98.1" fill="none" stroke="#ff0000" stroke-width="1.35"/>
<text x="1070.5" y="546.2" font-size="10.8" fill="#ff0000" class="s" text-anchor="middle" >N</text>
<text x="1006.2" y="610.4" font-size="10.8" fill="#ff0000" class="s" text-anchor="middle" >E</text>
<rect x="996.30" y="532.9" width="148.4" height="147.70" fill="none" stroke="#000" stroke-opacity="0.88" stroke-width="1.3"/>
<line x1="1005.05" y1="680.6" x2="1005.05" y2="684.5" stroke="#000" stroke-width="1.15"/>
<line x1="992.50" y1="672.10" x2="996.30" y2="672.10" stroke="#000" stroke-width="1.15"/>
<text x="1005.05" y="696.3" font-size="10.6" fill="#000" class="s" text-anchor="middle" >−4</text>
<text x="988.5" y="676.0" font-size="10.6" fill="#000" class="s" text-anchor="end" >−4</text>
<line x1="1037.75" y1="680.6" x2="1037.75" y2="684.5" stroke="#000" stroke-width="1.15"/>
<line x1="992.50" y1="639.30" x2="996.30" y2="639.30" stroke="#000" stroke-width="1.15"/>
<text x="1037.75" y="696.3" font-size="10.6" fill="#000" class="s" text-anchor="middle" >−2</text>
<text x="988.5" y="643.2" font-size="10.6" fill="#000" class="s" text-anchor="end" >−2</text>
<line x1="1070.45" y1="680.6" x2="1070.45" y2="684.5" stroke="#000" stroke-width="1.15"/>
<line x1="992.50" y1="606.50" x2="996.30" y2="606.50" stroke="#000" stroke-width="1.15"/>
<text x="1070.45" y="696.3" font-size="10.6" fill="#000" class="s" text-anchor="middle" >0</text>
<text x="988.5" y="610.4" font-size="10.6" fill="#000" class="s" text-anchor="end" >0</text>
<line x1="1103.15" y1="680.6" x2="1103.15" y2="684.5" stroke="#000" stroke-width="1.15"/>
<line x1="992.50" y1="573.70" x2="996.30" y2="573.70" stroke="#000" stroke-width="1.15"/>
<text x="1103.15" y="696.3" font-size="10.6" fill="#000" class="s" text-anchor="middle" >2</text>
<text x="988.5" y="577.6" font-size="10.6" fill="#000" class="s" text-anchor="end" >2</text>
<line x1="1135.85" y1="680.6" x2="1135.85" y2="684.5" stroke="#000" stroke-width="1.15"/>
<line x1="992.50" y1="540.90" x2="996.30" y2="540.90" stroke="#000" stroke-width="1.15"/>
<text x="1135.85" y="696.3" font-size="10.6" fill="#000" class="s" text-anchor="middle" >4</text>
<text x="988.5" y="544.8" font-size="10.6" fill="#000" class="s" text-anchor="end" >4</text>
<text x="1070.4" y="525.9" font-size="12.93" fill="#111" class="s" text-anchor="middle" stroke="#111" stroke-width="0.15">HSC SSP(25.5) z</text>
<text x="1070.5" y="706.6" font-size="10.8" fill="#111" class="s" text-anchor="middle" >m:16.5  re:2.0"  s:1.0"</text>
<clipPath id="cst6"><rect x="1181.58" y="532.9" width="148.4" height="147.70"/></clipPath>
<g clip-path="url(#cst6)">
<rect x="1181.58" y="532.9" width="148.4" height="147.70" fill="#eeeeee" filter="url(#nz12)"/>
<radialGradient id="rg25"><stop offset="0.000" stop-color="#000" stop-opacity="0.1"/><stop offset="0.500" stop-color="#000" stop-opacity="0.05500000000000001"/><stop offset="1.000" stop-color="#000" stop-opacity="0"/></radialGradient>
<ellipse cx="1245.0" cy="606.0" rx="9" ry="75" fill="url(#rg25)"/>
<radialGradient id="rg26"><stop offset="0.000" stop-color="#000" stop-opacity="1"/><stop offset="0.379" stop-color="#000" stop-opacity="1"/><stop offset="0.415" stop-color="#000" stop-opacity="0.86"/><stop offset="0.452" stop-color="#000" stop-opacity="0.58"/><stop offset="0.493" stop-color="#000" stop-opacity="0.33"/><stop offset="0.594" stop-color="#000" stop-opacity="0.14"/><stop offset="0.746" stop-color="#000" stop-opacity="0.05"/><stop offset="1.000" stop-color="#000" stop-opacity="0"/></radialGradient>
<ellipse cx="1245.3" cy="620.2" rx="44.0" ry="46.6" fill="url(#rg26)"/>
<radialGradient id="rg27"><stop offset="0.000" stop-color="#000" stop-opacity="0.17"/><stop offset="0.500" stop-color="#000" stop-opacity="0.09350000000000001"/><stop offset="1.000" stop-color="#000" stop-opacity="0"/></radialGradient>
<ellipse cx="1252.5" cy="556.5" rx="7" ry="10" fill="url(#rg27)"/>
</g>
<path d="M1218.3,606.5H1248.3M1263.1,606.5H1293.1M1255.7,569.1V599.1M1255.7,613.9V643.9" stroke="#ff0000" stroke-width="1.35" fill="none"/>
<ellipse cx="1245.5" cy="620.2" rx="25.3" ry="31.5" fill="none" stroke="#ffd700" stroke-width="1.2"/>
<rect x="1206.8" y="557.8" width="98.3" height="98.1" fill="none" stroke="#ff0000" stroke-width="1.35"/>
<text x="1255.7" y="546.2" font-size="10.8" fill="#ff0000" class="s" text-anchor="middle" >N</text>
<text x="1191.4" y="610.4" font-size="10.8" fill="#ff0000" class="s" text-anchor="middle" >E</text>
<rect x="1181.58" y="532.9" width="148.4" height="147.70" fill="none" stroke="#000" stroke-opacity="0.88" stroke-width="1.3"/>
<line x1="1190.32" y1="680.6" x2="1190.32" y2="684.5" stroke="#000" stroke-width="1.15"/>
<line x1="1177.78" y1="672.10" x2="1181.58" y2="672.10" stroke="#000" stroke-width="1.15"/>
<text x="1190.32" y="696.3" font-size="10.6" fill="#000" class="s" text-anchor="middle" >−4</text>
<text x="1173.78" y="676.0" font-size="10.6" fill="#000" class="s" text-anchor="end" >−4</text>
<line x1="1223.02" y1="680.6" x2="1223.02" y2="684.5" stroke="#000" stroke-width="1.15"/>
<line x1="1177.78" y1="639.30" x2="1181.58" y2="639.30" stroke="#000" stroke-width="1.15"/>
<text x="1223.02" y="696.3" font-size="10.6" fill="#000" class="s" text-anchor="middle" >−2</text>
<text x="1173.78" y="643.2" font-size="10.6" fill="#000" class="s" text-anchor="end" >−2</text>
<line x1="1255.72" y1="680.6" x2="1255.72" y2="684.5" stroke="#000" stroke-width="1.15"/>
<line x1="1177.78" y1="606.50" x2="1181.58" y2="606.50" stroke="#000" stroke-width="1.15"/>
<text x="1255.72" y="696.3" font-size="10.6" fill="#000" class="s" text-anchor="middle" >0</text>
<text x="1173.78" y="610.4" font-size="10.6" fill="#000" class="s" text-anchor="end" >0</text>
<line x1="1288.42" y1="680.6" x2="1288.42" y2="684.5" stroke="#000" stroke-width="1.15"/>
<line x1="1177.78" y1="573.70" x2="1181.58" y2="573.70" stroke="#000" stroke-width="1.15"/>
<text x="1288.42" y="696.3" font-size="10.6" fill="#000" class="s" text-anchor="middle" >2</text>
<text x="1173.78" y="577.6" font-size="10.6" fill="#000" class="s" text-anchor="end" >2</text>
<line x1="1321.12" y1="680.6" x2="1321.12" y2="684.5" stroke="#000" stroke-width="1.15"/>
<line x1="1177.78" y1="540.90" x2="1181.58" y2="540.90" stroke="#000" stroke-width="1.15"/>
<text x="1321.12" y="696.3" font-size="10.6" fill="#000" class="s" text-anchor="middle" >4</text>
<text x="1173.78" y="544.8" font-size="10.6" fill="#000" class="s" text-anchor="end" >4</text>
<text x="1255.6" y="525.9" font-size="12.93" fill="#111" class="s" text-anchor="middle" stroke="#111" stroke-width="0.15">HSC SSP(24.7) y</text>
<text x="1255.7" y="706.6" font-size="10.8" fill="#111" class="s" text-anchor="middle" >m:16.5  re:1.7"  s:1.0"</text>
</svg>
</body></html>
